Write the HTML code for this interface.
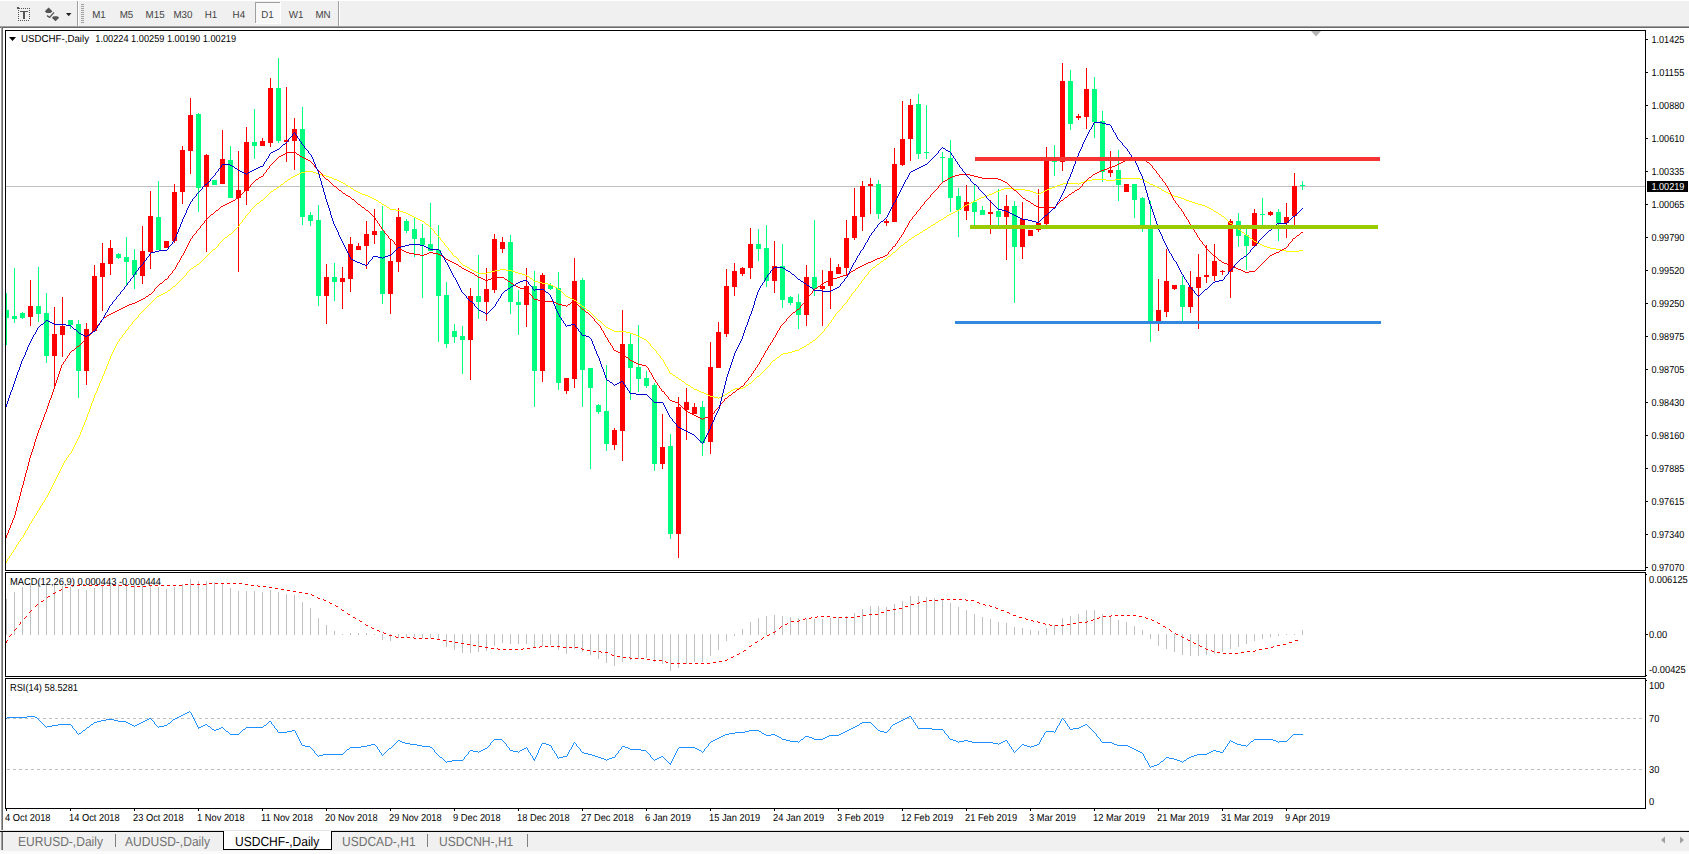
<!DOCTYPE html><html><head><meta charset="utf-8"><title>USDCHF-,Daily</title>
<style>html,body{margin:0;padding:0;background:#fff;overflow:hidden}body{width:1689px;height:854px;position:relative;font-family:"Liberation Sans",sans-serif}svg{position:absolute;left:0;top:0;display:block}text{font-family:"Liberation Sans",sans-serif;text-rendering:geometricPrecision}</style></head><body>
<svg width="1689" height="854" viewBox="0 0 1689 854">
<rect x="0" y="0" width="1689" height="854" fill="#ffffff"/>
<g shape-rendering="crispEdges">
<rect x="0" y="0" width="1689" height="26" fill="#f0f0f0"/>
<rect x="0" y="0" width="1689" height="1" fill="#ffffff"/>
<rect x="0" y="26" width="1689" height="1" fill="#a0a0a0"/>
<rect x="0" y="27" width="1689" height="1" fill="#696969"/>
<rect x="0" y="28" width="1" height="802" fill="#ffffff"/>
<rect x="1" y="27" width="1" height="803" fill="#a0a0a0"/>
<rect x="2" y="28" width="1" height="802" fill="#696969"/>
<rect x="77" y="1" width="1" height="25" fill="#a0a0a0"/>
<rect x="78" y="1" width="1" height="25" fill="#ffffff"/>
<rect x="338" y="1" width="1" height="25" fill="#a0a0a0"/>
<rect x="339" y="1" width="1" height="25" fill="#ffffff"/>
<rect x="81" y="4" width="3" height="1" fill="#a0a0a0"/>
<rect x="81" y="6" width="3" height="1" fill="#a0a0a0"/>
<rect x="81" y="8" width="3" height="1" fill="#a0a0a0"/>
<rect x="81" y="10" width="3" height="1" fill="#a0a0a0"/>
<rect x="81" y="12" width="3" height="1" fill="#a0a0a0"/>
<rect x="81" y="14" width="3" height="1" fill="#a0a0a0"/>
<rect x="81" y="16" width="3" height="1" fill="#a0a0a0"/>
<rect x="81" y="18" width="3" height="1" fill="#a0a0a0"/>
<rect x="81" y="20" width="3" height="1" fill="#a0a0a0"/>
<rect x="81" y="22" width="3" height="1" fill="#a0a0a0"/>
<rect x="255" y="2" width="26" height="22" fill="#f8f8f8"/>
<rect x="255" y="2" width="26" height="1" fill="#a0a0a0"/>
<rect x="255" y="2" width="1" height="22" fill="#a0a0a0"/>
<rect x="255" y="23" width="26" height="1" fill="#ffffff"/>
<rect x="280" y="2" width="1" height="22" fill="#ffffff"/>
<rect x="21" y="8" width="1" height="1" fill="#555"/>
<rect x="23" y="8" width="1" height="1" fill="#555"/>
<rect x="25" y="8" width="1" height="1" fill="#555"/>
<rect x="27" y="8" width="1" height="1" fill="#555"/>
<rect x="29" y="8" width="1" height="1" fill="#555"/>
<rect x="18" y="20" width="1" height="1" fill="#555"/>
<rect x="20" y="20" width="1" height="1" fill="#555"/>
<rect x="22" y="20" width="1" height="1" fill="#555"/>
<rect x="24" y="20" width="1" height="1" fill="#555"/>
<rect x="26" y="20" width="1" height="1" fill="#555"/>
<rect x="28" y="20" width="1" height="1" fill="#555"/>
<rect x="18" y="10" width="1" height="1" fill="#555"/>
<rect x="29" y="10" width="1" height="1" fill="#555"/>
<rect x="18" y="12" width="1" height="1" fill="#555"/>
<rect x="29" y="12" width="1" height="1" fill="#555"/>
<rect x="18" y="14" width="1" height="1" fill="#555"/>
<rect x="29" y="14" width="1" height="1" fill="#555"/>
<rect x="18" y="16" width="1" height="1" fill="#555"/>
<rect x="29" y="16" width="1" height="1" fill="#555"/>
<rect x="18" y="18" width="1" height="1" fill="#555"/>
<rect x="29" y="18" width="1" height="1" fill="#555"/>
<rect x="17" y="7" width="2" height="2" fill="#555"/>
<rect x="19" y="8" width="1" height="1" fill="#555"/>
<rect x="20" y="11" width="8" height="1" fill="#555"/>
<rect x="23" y="11" width="2" height="8" fill="#555"/>
</g>
<g fill="#555" stroke="none">
<polygon points="44.8,11.3 48.6,7.6 52.4,11.3 50.6,12.9 46.6,12.9"/>
<polygon points="51.8,17.8 55.5,21.2 59.2,17.8 57.4,16.3 53.6,16.3"/>
<polyline points="47,15.6 49.6,17.4 54,12.4" fill="none" stroke="#555" stroke-width="1.3"/>
<polygon points="66,13 71.5,13 68.7,16.3" fill="#222"/>
</g>
<g opacity="0.999">
<text x="92.2" y="17.8" font-size="10.2" fill="#444" textLength="13.6" lengthAdjust="spacingAndGlyphs">M1</text>
<text x="119.7" y="17.8" font-size="10.2" fill="#444" textLength="13.6" lengthAdjust="spacingAndGlyphs">M5</text>
<text x="145.6" y="17.8" font-size="10.2" fill="#444" textLength="19.1" lengthAdjust="spacingAndGlyphs">M15</text>
<text x="173.4" y="17.8" font-size="10.2" fill="#444" textLength="19.1" lengthAdjust="spacingAndGlyphs">M30</text>
<text x="204.8" y="17.8" font-size="10.2" fill="#444" textLength="12.5" lengthAdjust="spacingAndGlyphs">H1</text>
<text x="232.6" y="17.8" font-size="10.2" fill="#444" textLength="12.5" lengthAdjust="spacingAndGlyphs">H4</text>
<text x="261.2" y="17.8" font-size="10.2" fill="#444" textLength="12.5" lengthAdjust="spacingAndGlyphs">D1</text>
<text x="288.8" y="17.8" font-size="10.2" fill="#444" textLength="14.7" lengthAdjust="spacingAndGlyphs">W1</text>
<text x="315.4" y="17.8" font-size="10.2" fill="#444" textLength="15.2" lengthAdjust="spacingAndGlyphs">MN</text>
</g>
<g shape-rendering="crispEdges" fill="#000">
<rect x="5" y="30" width="1641" height="1"/>
<rect x="5" y="30" width="1" height="779"/>
<rect x="1645" y="30" width="1" height="779"/>
<rect x="5" y="808" width="1641" height="1"/>
<rect x="5" y="570" width="1641" height="1"/>
<rect x="5" y="572" width="1641" height="1"/>
<rect x="5" y="676" width="1641" height="1"/>
<rect x="5" y="678" width="1641" height="1"/>
<rect x="5" y="571" width="1641" height="1" fill="#fff"/>
<rect x="5" y="677" width="1641" height="1" fill="#fff"/>
<rect x="6" y="186" width="1639" height="1" fill="#c0c0c0"/>
</g>
<polygon points="1311,31 1321,31 1316,36.5" fill="#b4b4b4"/>
<defs><clipPath id="cm"><rect x="6" y="31" width="1639" height="539"/></clipPath></defs>
<g shape-rendering="crispEdges" clip-path="url(#cm)">
<rect x="6" y="293" width="1" height="52" fill="#00ff7f"/>
<rect x="4" y="310" width="5" height="8" fill="#00ff7f"/>
<rect x="14" y="268" width="1" height="55" fill="#00ff7f"/>
<rect x="12" y="316" width="5" height="3" fill="#00ff7f"/>
<rect x="22" y="312" width="1" height="7" fill="#00ff7f"/>
<rect x="20" y="313" width="5" height="5" fill="#00ff7f"/>
<rect x="30" y="280" width="1" height="46" fill="#ff0000"/>
<rect x="28" y="306" width="5" height="11" fill="#ff0000"/>
<rect x="38" y="267" width="1" height="55" fill="#00ff7f"/>
<rect x="36" y="306" width="5" height="8" fill="#00ff7f"/>
<rect x="46" y="293" width="1" height="70" fill="#00ff7f"/>
<rect x="44" y="313" width="5" height="43" fill="#00ff7f"/>
<rect x="54" y="307" width="1" height="80" fill="#ff0000"/>
<rect x="52" y="334" width="5" height="22" fill="#ff0000"/>
<rect x="62" y="297" width="1" height="60" fill="#ff0000"/>
<rect x="60" y="326" width="5" height="9" fill="#ff0000"/>
<rect x="70" y="320" width="1" height="9" fill="#00ff7f"/>
<rect x="68" y="320" width="5" height="5" fill="#00ff7f"/>
<rect x="78" y="320" width="1" height="78" fill="#00ff7f"/>
<rect x="76" y="324" width="5" height="47" fill="#00ff7f"/>
<rect x="86" y="323" width="1" height="62" fill="#ff0000"/>
<rect x="84" y="329" width="5" height="42" fill="#ff0000"/>
<rect x="94" y="265" width="1" height="66" fill="#ff0000"/>
<rect x="92" y="276" width="5" height="55" fill="#ff0000"/>
<rect x="102" y="243" width="1" height="68" fill="#ff0000"/>
<rect x="100" y="263" width="5" height="14" fill="#ff0000"/>
<rect x="110" y="240" width="1" height="35" fill="#ff0000"/>
<rect x="108" y="248" width="5" height="16" fill="#ff0000"/>
<rect x="118" y="253" width="1" height="6" fill="#00ff7f"/>
<rect x="116" y="254" width="5" height="4" fill="#00ff7f"/>
<rect x="126" y="237" width="1" height="48" fill="#00ff7f"/>
<rect x="124" y="257" width="5" height="5" fill="#00ff7f"/>
<rect x="134" y="249" width="1" height="40" fill="#00ff7f"/>
<rect x="132" y="260" width="5" height="15" fill="#00ff7f"/>
<rect x="142" y="226" width="1" height="58" fill="#ff0000"/>
<rect x="140" y="251" width="5" height="25" fill="#ff0000"/>
<rect x="150" y="191" width="1" height="78" fill="#ff0000"/>
<rect x="148" y="216" width="5" height="36" fill="#ff0000"/>
<rect x="158" y="181" width="1" height="69" fill="#00ff7f"/>
<rect x="156" y="217" width="5" height="33" fill="#00ff7f"/>
<rect x="166" y="241" width="1" height="7" fill="#ff0000"/>
<rect x="164" y="241" width="5" height="7" fill="#ff0000"/>
<rect x="174" y="184" width="1" height="59" fill="#ff0000"/>
<rect x="172" y="192" width="5" height="49" fill="#ff0000"/>
<rect x="182" y="146" width="1" height="58" fill="#ff0000"/>
<rect x="180" y="150" width="5" height="42" fill="#ff0000"/>
<rect x="190" y="98" width="1" height="76" fill="#ff0000"/>
<rect x="188" y="115" width="5" height="36" fill="#ff0000"/>
<rect x="198" y="113" width="1" height="99" fill="#00ff7f"/>
<rect x="196" y="114" width="5" height="74" fill="#00ff7f"/>
<rect x="206" y="154" width="1" height="98" fill="#ff0000"/>
<rect x="204" y="155" width="5" height="32" fill="#ff0000"/>
<rect x="214" y="180" width="1" height="5" fill="#00ff7f"/>
<rect x="212" y="180" width="5" height="5" fill="#00ff7f"/>
<rect x="222" y="130" width="1" height="54" fill="#ff0000"/>
<rect x="220" y="159" width="5" height="25" fill="#ff0000"/>
<rect x="230" y="146" width="1" height="52" fill="#00ff7f"/>
<rect x="228" y="160" width="5" height="38" fill="#00ff7f"/>
<rect x="238" y="151" width="1" height="121" fill="#ff0000"/>
<rect x="236" y="190" width="5" height="8" fill="#ff0000"/>
<rect x="246" y="127" width="1" height="78" fill="#ff0000"/>
<rect x="244" y="142" width="5" height="49" fill="#ff0000"/>
<rect x="254" y="109" width="1" height="50" fill="#00ff7f"/>
<rect x="252" y="142" width="5" height="4" fill="#00ff7f"/>
<rect x="262" y="138" width="1" height="8" fill="#ff0000"/>
<rect x="260" y="141" width="5" height="5" fill="#ff0000"/>
<rect x="270" y="78" width="1" height="69" fill="#ff0000"/>
<rect x="268" y="88" width="5" height="55" fill="#ff0000"/>
<rect x="278" y="58" width="1" height="85" fill="#00ff7f"/>
<rect x="276" y="88" width="5" height="53" fill="#00ff7f"/>
<rect x="286" y="87" width="1" height="75" fill="#ff0000"/>
<rect x="284" y="140" width="5" height="2" fill="#ff0000"/>
<rect x="294" y="118" width="1" height="52" fill="#ff0000"/>
<rect x="292" y="129" width="5" height="12" fill="#ff0000"/>
<rect x="302" y="107" width="1" height="118" fill="#00ff7f"/>
<rect x="300" y="129" width="5" height="88" fill="#00ff7f"/>
<rect x="310" y="212" width="1" height="14" fill="#00ff7f"/>
<rect x="308" y="215" width="5" height="6" fill="#00ff7f"/>
<rect x="318" y="205" width="1" height="101" fill="#00ff7f"/>
<rect x="316" y="220" width="5" height="76" fill="#00ff7f"/>
<rect x="326" y="264" width="1" height="60" fill="#ff0000"/>
<rect x="324" y="277" width="5" height="19" fill="#ff0000"/>
<rect x="334" y="263" width="1" height="38" fill="#00ff7f"/>
<rect x="332" y="277" width="5" height="5" fill="#00ff7f"/>
<rect x="342" y="267" width="1" height="42" fill="#ff0000"/>
<rect x="340" y="278" width="5" height="4" fill="#ff0000"/>
<rect x="350" y="237" width="1" height="55" fill="#ff0000"/>
<rect x="348" y="244" width="5" height="35" fill="#ff0000"/>
<rect x="358" y="243" width="1" height="7" fill="#ff0000"/>
<rect x="356" y="246" width="5" height="4" fill="#ff0000"/>
<rect x="366" y="221" width="1" height="48" fill="#ff0000"/>
<rect x="364" y="234" width="5" height="12" fill="#ff0000"/>
<rect x="374" y="209" width="1" height="35" fill="#ff0000"/>
<rect x="372" y="231" width="5" height="4" fill="#ff0000"/>
<rect x="382" y="206" width="1" height="98" fill="#00ff7f"/>
<rect x="380" y="231" width="5" height="63" fill="#00ff7f"/>
<rect x="390" y="240" width="1" height="74" fill="#ff0000"/>
<rect x="388" y="261" width="5" height="33" fill="#ff0000"/>
<rect x="398" y="208" width="1" height="64" fill="#ff0000"/>
<rect x="396" y="217" width="5" height="45" fill="#ff0000"/>
<rect x="406" y="219" width="1" height="14" fill="#00ff7f"/>
<rect x="404" y="221" width="5" height="10" fill="#00ff7f"/>
<rect x="414" y="218" width="1" height="39" fill="#00ff7f"/>
<rect x="412" y="229" width="5" height="10" fill="#00ff7f"/>
<rect x="422" y="224" width="1" height="74" fill="#00ff7f"/>
<rect x="420" y="238" width="5" height="7" fill="#00ff7f"/>
<rect x="430" y="203" width="1" height="48" fill="#00ff7f"/>
<rect x="428" y="244" width="5" height="7" fill="#00ff7f"/>
<rect x="438" y="225" width="1" height="117" fill="#00ff7f"/>
<rect x="436" y="250" width="5" height="46" fill="#00ff7f"/>
<rect x="446" y="282" width="1" height="66" fill="#00ff7f"/>
<rect x="444" y="295" width="5" height="49" fill="#00ff7f"/>
<rect x="454" y="324" width="1" height="19" fill="#00ff7f"/>
<rect x="452" y="331" width="5" height="6" fill="#00ff7f"/>
<rect x="462" y="326" width="1" height="48" fill="#00ff7f"/>
<rect x="460" y="336" width="5" height="4" fill="#00ff7f"/>
<rect x="470" y="288" width="1" height="92" fill="#ff0000"/>
<rect x="468" y="296" width="5" height="44" fill="#ff0000"/>
<rect x="478" y="255" width="1" height="64" fill="#00ff7f"/>
<rect x="476" y="296" width="5" height="6" fill="#00ff7f"/>
<rect x="486" y="268" width="1" height="53" fill="#ff0000"/>
<rect x="484" y="289" width="5" height="13" fill="#ff0000"/>
<rect x="494" y="234" width="1" height="59" fill="#ff0000"/>
<rect x="492" y="239" width="5" height="51" fill="#ff0000"/>
<rect x="502" y="237" width="1" height="16" fill="#ff0000"/>
<rect x="500" y="242" width="5" height="7" fill="#ff0000"/>
<rect x="510" y="235" width="1" height="79" fill="#00ff7f"/>
<rect x="508" y="242" width="5" height="60" fill="#00ff7f"/>
<rect x="518" y="290" width="1" height="45" fill="#00ff7f"/>
<rect x="516" y="302" width="5" height="3" fill="#00ff7f"/>
<rect x="526" y="268" width="1" height="59" fill="#ff0000"/>
<rect x="524" y="286" width="5" height="19" fill="#ff0000"/>
<rect x="534" y="271" width="1" height="136" fill="#00ff7f"/>
<rect x="532" y="286" width="5" height="85" fill="#00ff7f"/>
<rect x="542" y="273" width="1" height="109" fill="#ff0000"/>
<rect x="540" y="275" width="5" height="96" fill="#ff0000"/>
<rect x="550" y="283" width="1" height="7" fill="#00ff7f"/>
<rect x="548" y="285" width="5" height="4" fill="#00ff7f"/>
<rect x="558" y="272" width="1" height="118" fill="#00ff7f"/>
<rect x="556" y="288" width="5" height="95" fill="#00ff7f"/>
<rect x="566" y="378" width="1" height="16" fill="#ff0000"/>
<rect x="564" y="378" width="5" height="13" fill="#ff0000"/>
<rect x="574" y="258" width="1" height="130" fill="#ff0000"/>
<rect x="572" y="281" width="5" height="98" fill="#ff0000"/>
<rect x="582" y="278" width="1" height="129" fill="#00ff7f"/>
<rect x="580" y="280" width="5" height="90" fill="#00ff7f"/>
<rect x="590" y="368" width="1" height="101" fill="#00ff7f"/>
<rect x="588" y="368" width="5" height="20" fill="#00ff7f"/>
<rect x="598" y="404" width="1" height="10" fill="#00ff7f"/>
<rect x="596" y="405" width="5" height="7" fill="#00ff7f"/>
<rect x="606" y="365" width="1" height="86" fill="#00ff7f"/>
<rect x="604" y="411" width="5" height="33" fill="#00ff7f"/>
<rect x="614" y="428" width="1" height="22" fill="#ff0000"/>
<rect x="612" y="430" width="5" height="15" fill="#ff0000"/>
<rect x="622" y="310" width="1" height="151" fill="#ff0000"/>
<rect x="620" y="344" width="5" height="87" fill="#ff0000"/>
<rect x="630" y="334" width="1" height="66" fill="#00ff7f"/>
<rect x="628" y="344" width="5" height="24" fill="#00ff7f"/>
<rect x="638" y="325" width="1" height="67" fill="#00ff7f"/>
<rect x="636" y="367" width="5" height="12" fill="#00ff7f"/>
<rect x="646" y="371" width="1" height="17" fill="#00ff7f"/>
<rect x="644" y="378" width="5" height="8" fill="#00ff7f"/>
<rect x="654" y="383" width="1" height="88" fill="#00ff7f"/>
<rect x="652" y="385" width="5" height="79" fill="#00ff7f"/>
<rect x="662" y="414" width="1" height="55" fill="#ff0000"/>
<rect x="660" y="447" width="5" height="17" fill="#ff0000"/>
<rect x="670" y="434" width="1" height="105" fill="#00ff7f"/>
<rect x="668" y="446" width="5" height="88" fill="#00ff7f"/>
<rect x="678" y="397" width="1" height="161" fill="#ff0000"/>
<rect x="676" y="407" width="5" height="127" fill="#ff0000"/>
<rect x="686" y="388" width="1" height="52" fill="#ff0000"/>
<rect x="684" y="402" width="5" height="8" fill="#ff0000"/>
<rect x="694" y="403" width="1" height="11" fill="#ff0000"/>
<rect x="692" y="407" width="5" height="7" fill="#ff0000"/>
<rect x="702" y="401" width="1" height="55" fill="#00ff7f"/>
<rect x="700" y="407" width="5" height="36" fill="#00ff7f"/>
<rect x="710" y="342" width="1" height="112" fill="#ff0000"/>
<rect x="708" y="367" width="5" height="75" fill="#ff0000"/>
<rect x="718" y="322" width="1" height="46" fill="#ff0000"/>
<rect x="716" y="332" width="5" height="36" fill="#ff0000"/>
<rect x="726" y="269" width="1" height="68" fill="#ff0000"/>
<rect x="724" y="286" width="5" height="48" fill="#ff0000"/>
<rect x="734" y="263" width="1" height="33" fill="#ff0000"/>
<rect x="732" y="271" width="5" height="16" fill="#ff0000"/>
<rect x="742" y="267" width="1" height="9" fill="#ff0000"/>
<rect x="740" y="268" width="5" height="6" fill="#ff0000"/>
<rect x="750" y="228" width="1" height="51" fill="#ff0000"/>
<rect x="748" y="244" width="5" height="24" fill="#ff0000"/>
<rect x="758" y="229" width="1" height="32" fill="#00ff7f"/>
<rect x="756" y="244" width="5" height="5" fill="#00ff7f"/>
<rect x="766" y="225" width="1" height="62" fill="#00ff7f"/>
<rect x="764" y="248" width="5" height="33" fill="#00ff7f"/>
<rect x="774" y="241" width="1" height="52" fill="#ff0000"/>
<rect x="772" y="266" width="5" height="15" fill="#ff0000"/>
<rect x="782" y="244" width="1" height="64" fill="#00ff7f"/>
<rect x="780" y="266" width="5" height="34" fill="#00ff7f"/>
<rect x="790" y="296" width="1" height="9" fill="#00ff7f"/>
<rect x="788" y="297" width="5" height="6" fill="#00ff7f"/>
<rect x="798" y="294" width="1" height="35" fill="#00ff7f"/>
<rect x="796" y="302" width="5" height="13" fill="#00ff7f"/>
<rect x="806" y="265" width="1" height="61" fill="#ff0000"/>
<rect x="804" y="277" width="5" height="38" fill="#ff0000"/>
<rect x="814" y="220" width="1" height="76" fill="#00ff7f"/>
<rect x="812" y="277" width="5" height="12" fill="#00ff7f"/>
<rect x="822" y="270" width="1" height="56" fill="#ff0000"/>
<rect x="820" y="286" width="5" height="3" fill="#ff0000"/>
<rect x="830" y="258" width="1" height="51" fill="#ff0000"/>
<rect x="828" y="271" width="5" height="15" fill="#ff0000"/>
<rect x="838" y="264" width="1" height="10" fill="#ff0000"/>
<rect x="836" y="267" width="5" height="7" fill="#ff0000"/>
<rect x="846" y="220" width="1" height="55" fill="#ff0000"/>
<rect x="844" y="238" width="5" height="30" fill="#ff0000"/>
<rect x="854" y="188" width="1" height="52" fill="#ff0000"/>
<rect x="852" y="216" width="5" height="22" fill="#ff0000"/>
<rect x="862" y="181" width="1" height="50" fill="#ff0000"/>
<rect x="860" y="186" width="5" height="31" fill="#ff0000"/>
<rect x="870" y="178" width="1" height="36" fill="#ff0000"/>
<rect x="868" y="184" width="5" height="2" fill="#ff0000"/>
<rect x="878" y="180" width="1" height="39" fill="#00ff7f"/>
<rect x="876" y="184" width="5" height="30" fill="#00ff7f"/>
<rect x="886" y="219" width="1" height="7" fill="#ff0000"/>
<rect x="884" y="221" width="5" height="2" fill="#ff0000"/>
<rect x="894" y="148" width="1" height="74" fill="#ff0000"/>
<rect x="892" y="164" width="5" height="58" fill="#ff0000"/>
<rect x="902" y="101" width="1" height="65" fill="#ff0000"/>
<rect x="900" y="139" width="5" height="26" fill="#ff0000"/>
<rect x="910" y="99" width="1" height="62" fill="#ff0000"/>
<rect x="908" y="105" width="5" height="34" fill="#ff0000"/>
<rect x="918" y="94" width="1" height="65" fill="#00ff7f"/>
<rect x="916" y="104" width="5" height="50" fill="#00ff7f"/>
<rect x="926" y="105" width="1" height="54" fill="#00ff7f"/>
<rect x="924" y="152" width="5" height="1" fill="#00ff7f"/>
<rect x="942" y="152" width="1" height="31" fill="#00ff7f"/>
<rect x="940" y="157" width="5" height="1" fill="#00ff7f"/>
<rect x="950" y="140" width="1" height="72" fill="#00ff7f"/>
<rect x="948" y="158" width="5" height="40" fill="#00ff7f"/>
<rect x="958" y="188" width="1" height="49" fill="#00ff7f"/>
<rect x="956" y="196" width="5" height="14" fill="#00ff7f"/>
<rect x="966" y="185" width="1" height="35" fill="#ff0000"/>
<rect x="964" y="202" width="5" height="9" fill="#ff0000"/>
<rect x="974" y="185" width="1" height="40" fill="#00ff7f"/>
<rect x="972" y="202" width="5" height="10" fill="#00ff7f"/>
<rect x="982" y="206" width="1" height="9" fill="#00ff7f"/>
<rect x="980" y="210" width="5" height="5" fill="#00ff7f"/>
<rect x="990" y="200" width="1" height="34" fill="#ff0000"/>
<rect x="988" y="212" width="5" height="2" fill="#ff0000"/>
<rect x="998" y="189" width="1" height="36" fill="#00ff7f"/>
<rect x="996" y="211" width="5" height="6" fill="#00ff7f"/>
<rect x="1006" y="195" width="1" height="65" fill="#ff0000"/>
<rect x="1004" y="206" width="5" height="11" fill="#ff0000"/>
<rect x="1014" y="201" width="1" height="102" fill="#00ff7f"/>
<rect x="1012" y="206" width="5" height="41" fill="#00ff7f"/>
<rect x="1022" y="202" width="1" height="57" fill="#ff0000"/>
<rect x="1020" y="219" width="5" height="28" fill="#ff0000"/>
<rect x="1030" y="230" width="1" height="6" fill="#ff0000"/>
<rect x="1028" y="230" width="5" height="6" fill="#ff0000"/>
<rect x="1038" y="189" width="1" height="43" fill="#ff0000"/>
<rect x="1036" y="223" width="5" height="7" fill="#ff0000"/>
<rect x="1046" y="147" width="1" height="78" fill="#ff0000"/>
<rect x="1044" y="160" width="5" height="64" fill="#ff0000"/>
<rect x="1054" y="145" width="1" height="31" fill="#00ff7f"/>
<rect x="1052" y="159" width="5" height="3" fill="#00ff7f"/>
<rect x="1062" y="63" width="1" height="108" fill="#ff0000"/>
<rect x="1060" y="81" width="5" height="81" fill="#ff0000"/>
<rect x="1070" y="70" width="1" height="60" fill="#00ff7f"/>
<rect x="1068" y="81" width="5" height="43" fill="#00ff7f"/>
<rect x="1078" y="114" width="1" height="6" fill="#ff0000"/>
<rect x="1076" y="116" width="5" height="2" fill="#ff0000"/>
<rect x="1086" y="68" width="1" height="61" fill="#ff0000"/>
<rect x="1084" y="89" width="5" height="28" fill="#ff0000"/>
<rect x="1094" y="77" width="1" height="61" fill="#00ff7f"/>
<rect x="1092" y="89" width="5" height="33" fill="#00ff7f"/>
<rect x="1102" y="111" width="1" height="71" fill="#00ff7f"/>
<rect x="1100" y="121" width="5" height="51" fill="#00ff7f"/>
<rect x="1110" y="151" width="1" height="26" fill="#ff0000"/>
<rect x="1108" y="170" width="5" height="3" fill="#ff0000"/>
<rect x="1118" y="150" width="1" height="51" fill="#00ff7f"/>
<rect x="1116" y="170" width="5" height="15" fill="#00ff7f"/>
<rect x="1126" y="184" width="1" height="8" fill="#ff0000"/>
<rect x="1124" y="184" width="5" height="8" fill="#ff0000"/>
<rect x="1134" y="184" width="1" height="34" fill="#00ff7f"/>
<rect x="1132" y="184" width="5" height="16" fill="#00ff7f"/>
<rect x="1142" y="197" width="1" height="35" fill="#00ff7f"/>
<rect x="1140" y="198" width="5" height="28" fill="#00ff7f"/>
<rect x="1150" y="201" width="1" height="141" fill="#00ff7f"/>
<rect x="1148" y="227" width="5" height="94" fill="#00ff7f"/>
<rect x="1158" y="279" width="1" height="52" fill="#ff0000"/>
<rect x="1156" y="310" width="5" height="11" fill="#ff0000"/>
<rect x="1166" y="249" width="1" height="68" fill="#ff0000"/>
<rect x="1164" y="281" width="5" height="31" fill="#ff0000"/>
<rect x="1174" y="285" width="1" height="5" fill="#ff0000"/>
<rect x="1172" y="285" width="5" height="4" fill="#ff0000"/>
<rect x="1182" y="276" width="1" height="45" fill="#00ff7f"/>
<rect x="1180" y="285" width="5" height="22" fill="#00ff7f"/>
<rect x="1190" y="271" width="1" height="42" fill="#ff0000"/>
<rect x="1188" y="287" width="5" height="20" fill="#ff0000"/>
<rect x="1198" y="254" width="1" height="75" fill="#ff0000"/>
<rect x="1196" y="277" width="5" height="11" fill="#ff0000"/>
<rect x="1206" y="245" width="1" height="38" fill="#ff0000"/>
<rect x="1204" y="275" width="5" height="2" fill="#ff0000"/>
<rect x="1214" y="244" width="1" height="37" fill="#ff0000"/>
<rect x="1212" y="261" width="5" height="15" fill="#ff0000"/>
<rect x="1222" y="270" width="1" height="5" fill="#ff0000"/>
<rect x="1220" y="271" width="5" height="1" fill="#ff0000"/>
<rect x="1230" y="219" width="1" height="79" fill="#ff0000"/>
<rect x="1228" y="221" width="5" height="51" fill="#ff0000"/>
<rect x="1238" y="213" width="1" height="34" fill="#00ff7f"/>
<rect x="1236" y="221" width="5" height="15" fill="#00ff7f"/>
<rect x="1246" y="229" width="1" height="41" fill="#00ff7f"/>
<rect x="1244" y="235" width="5" height="11" fill="#00ff7f"/>
<rect x="1254" y="209" width="1" height="38" fill="#ff0000"/>
<rect x="1252" y="213" width="5" height="33" fill="#ff0000"/>
<rect x="1262" y="198" width="1" height="27" fill="#00ff7f"/>
<rect x="1260" y="214" width="5" height="1" fill="#00ff7f"/>
<rect x="1270" y="211" width="1" height="5" fill="#ff0000"/>
<rect x="1268" y="212" width="5" height="3" fill="#ff0000"/>
<rect x="1278" y="209" width="1" height="32" fill="#00ff7f"/>
<rect x="1276" y="212" width="5" height="11" fill="#00ff7f"/>
<rect x="1286" y="203" width="1" height="35" fill="#ff0000"/>
<rect x="1284" y="217" width="5" height="6" fill="#ff0000"/>
<rect x="1294" y="173" width="1" height="52" fill="#ff0000"/>
<rect x="1292" y="186" width="5" height="30" fill="#ff0000"/>
<rect x="1302" y="181" width="1" height="9" fill="#00ff7f"/>
<rect x="1300" y="185" width="5" height="1" fill="#00ff7f"/>
</g>
<path d="M6.5 561v2M7.5 559v2M8.5 558v1M9.5 556v2M10.5 555v1M11.5 553v2M12.5 552v1M13.5 550v2M14.5 549v1M15.5 547v2M16.5 545v2M17.5 544v1M18.5 542v2M19.5 541v1M20.5 539v2M21.5 538v1M22.5 537v1M23.5 535v2M24.5 533v2M25.5 531v2M26.5 530v1M27.5 528v2M28.5 526v2M29.5 524v2M30.5 523v1M31.5 521v2M32.5 519v2M33.5 518v1M34.5 516v2M35.5 515v1M36.5 513v2M37.5 511v2M38.5 510v1M39.5 508v2M40.5 506v2M41.5 505v1M42.5 503v2M43.5 502v1M44.5 500v2M45.5 498v2M46.5 497v1M47.5 495v2M48.5 493v2M49.5 491v2M50.5 489v2M51.5 487v2M52.5 485v2M53.5 483v2M54.5 481v2M55.5 479v2M56.5 477v2M57.5 475v2M58.5 473v2M59.5 471v2M60.5 469v2M61.5 467v2M62.5 465v2M63.5 463v2M64.5 461v2M65.5 460v1M66.5 458v2M67.5 457v1M68.5 455v2M69.5 454v1M70.5 453v1M71.5 451v2M72.5 449v2M73.5 447v2M74.5 445v2M75.5 443v2M76.5 441v2M77.5 439v2M78.5 437v2M79.5 435v2M80.5 432v3M81.5 430v2M82.5 427v3M83.5 425v2M84.5 422v3M85.5 420v2M86.5 417v3M87.5 414v3M88.5 412v2M89.5 409v3M90.5 406v3M91.5 403v3M92.5 401v2M93.5 398v3M94.5 395v3M95.5 393v2M96.5 391v2M97.5 388v3M98.5 386v2M99.5 383v3M100.5 381v2M101.5 379v2M102.5 376v3M103.5 374v2M104.5 371v3M105.5 369v2M106.5 366v3M107.5 364v2M108.5 361v3M109.5 359v2M110.5 356v3M111.5 354v2M112.5 352v2M113.5 350v2M114.5 348v2M115.5 346v2M116.5 344v2M117.5 342v2M118.5 341v1M119.5 339v2M120.5 338v1M121.5 337v1M122.5 335v2M123.5 334v1M124.5 333v1M125.5 331v2M126.5 330v1M127.5 329v1M128.5 327v2M129.5 326v1M130.5 325v1M131.5 324v1M132.5 322v2M133.5 321v1M134.5 320v1M135.5 319v1M136.5 318v1M137.5 317v1M138.5 315v2M139.5 314v1M140.5 313v1M141.5 312v1M142.5 311v1M143.5 310v1M144.5 309v1M145.5 308v1M146.5 307v1M147.5 306v1M148.5 305v1M149.5 304v1M150.5 303v1M151.5 302v1M152.5 301v1M153.5 300v1M154.5 299v1M155.5 298v1M156.5 297v1M157.5 296v1M158.5 296v1M159.5 295v1M160.5 295v1M161.5 294v1M162.5 294v1M163.5 293v1M164.5 293v1M165.5 292v1M166.5 292v1M167.5 291v1M168.5 290v1M169.5 290v1M170.5 289v1M171.5 288v1M172.5 287v1M173.5 286v1M174.5 286v1M175.5 285v1M176.5 284v1M177.5 283v1M178.5 282v1M179.5 281v1M180.5 280v1M181.5 279v1M182.5 278v1M183.5 277v1M184.5 276v1M185.5 275v1M186.5 273v2M187.5 272v1M188.5 271v1M189.5 270v1M190.5 269v1M191.5 268v1M192.5 268v1M193.5 267v1M194.5 266v1M195.5 266v1M196.5 265v1M197.5 264v1M198.5 264v1M199.5 263v1M200.5 262v1M201.5 261v1M202.5 260v1M203.5 259v1M204.5 258v1M205.5 257v1M206.5 256v1M207.5 255v1M208.5 254v1M209.5 253v1M210.5 252v1M211.5 251v1M212.5 250v1M213.5 249v1M214.5 249v1M215.5 248v1M216.5 247v1M217.5 246v1M218.5 244v2M219.5 243v1M220.5 242v1M221.5 241v1M222.5 240v1M223.5 239v1M224.5 238v1M225.5 237v1M226.5 237v1M227.5 236v1M228.5 235v1M229.5 234v1M230.5 234v1M231.5 233v1M232.5 232v1M233.5 231v1M234.5 230v1M235.5 229v1M236.5 228v1M237.5 227v1M238.5 226v1M239.5 224v2M240.5 223v1M241.5 222v1M242.5 220v2M243.5 219v1M244.5 218v1M245.5 216v2M246.5 215v1M247.5 214v1M248.5 213v1M249.5 212v1M250.5 210v2M251.5 209v1M252.5 208v1M253.5 207v1M254.5 206v1M255.5 205v1M256.5 204v1M257.5 203v1M258.5 203v1M259.5 202v1M260.5 201v1M261.5 200v1M262.5 200v1M263.5 199v1M264.5 198v1M265.5 197v1M266.5 196v1M267.5 195v1M268.5 194v1M269.5 193v1M270.5 192v1M271.5 191v1M272.5 191v1M273.5 190v1M274.5 189v1M275.5 189v1M276.5 188v1M277.5 187v1M278.5 187v1M279.5 186v1M280.5 185v1M281.5 184v1M282.5 184v1M283.5 183v1M284.5 182v1M285.5 181v1M286.5 181v1M287.5 180v1M288.5 179v1M289.5 179v1M290.5 178v1M291.5 177v1M292.5 177v1M293.5 176v1M294.5 176v1M295.5 175v1M296.5 175v1M297.5 174v1M298.5 174v1M299.5 173v1M300.5 173v1M301.5 172v1M302.5 172v1M303.5 172v1M304.5 172v1M305.5 171v1M306.5 171v1M307.5 171v1M308.5 171v1M309.5 171v1M310.5 171v1M311.5 171v1M312.5 171v1M313.5 172v1M314.5 172v1M315.5 172v1M316.5 173v1M317.5 173v1M318.5 174v1M319.5 174v1M320.5 174v1M321.5 174v1M322.5 175v1M323.5 175v1M324.5 175v1M325.5 175v1M326.5 176v1M327.5 176v1M328.5 176v1M329.5 177v1M330.5 177v1M331.5 177v1M332.5 178v1M333.5 178v1M334.5 179v1M335.5 179v1M336.5 179v1M337.5 180v1M338.5 180v1M339.5 181v1M340.5 181v1M341.5 182v1M342.5 182v1M343.5 183v1M344.5 183v1M345.5 184v1M346.5 185v1M347.5 185v1M348.5 186v1M349.5 186v1M350.5 187v1M351.5 188v1M352.5 188v1M353.5 189v1M354.5 190v1M355.5 190v1M356.5 191v1M357.5 191v1M358.5 192v1M359.5 192v1M360.5 193v1M361.5 193v1M362.5 194v1M363.5 194v1M364.5 194v1M365.5 195v1M366.5 195v1M367.5 195v1M368.5 196v1M369.5 196v1M370.5 197v1M371.5 197v1M372.5 198v1M373.5 198v1M374.5 199v1M375.5 199v1M376.5 200v1M377.5 200v1M378.5 201v1M379.5 202v1M380.5 202v1M381.5 203v1M382.5 204v1M383.5 204v1M384.5 205v1M385.5 205v1M386.5 206v1M387.5 207v1M388.5 207v1M389.5 208v1M390.5 209v1M391.5 209v1M392.5 209v1M393.5 209v1M394.5 209v1M395.5 209v1M396.5 210v1M397.5 210v1M398.5 210v1M399.5 210v1M400.5 211v1M401.5 211v1M402.5 211v1M403.5 212v1M404.5 212v1M405.5 212v1M406.5 213v1M407.5 213v1M408.5 214v1M409.5 214v1M410.5 215v1M411.5 215v1M412.5 216v1M413.5 216v1M414.5 217v1M415.5 217v1M416.5 218v1M417.5 218v1M418.5 219v1M419.5 219v1M420.5 220v1M421.5 220v1M422.5 221v1M423.5 221v1M424.5 222v1M425.5 223v1M426.5 224v1M427.5 224v1M428.5 225v1M429.5 226v1M430.5 227v1M431.5 228v1M432.5 229v1M433.5 230v1M434.5 231v2M435.5 233v1M436.5 234v1M437.5 235v1M438.5 236v1M439.5 237v1M440.5 238v2M441.5 240v1M442.5 241v1M443.5 242v1M444.5 243v2M445.5 245v1M446.5 246v1M447.5 247v1M448.5 248v2M449.5 250v1M450.5 251v1M451.5 252v1M452.5 253v2M453.5 255v1M454.5 256v1M455.5 256v1M456.5 257v1M457.5 258v1M458.5 259v2M459.5 261v1M460.5 262v1M461.5 263v1M462.5 264v1M463.5 265v1M464.5 265v1M465.5 266v1M466.5 266v1M467.5 267v1M468.5 267v1M469.5 268v1M470.5 269v1M471.5 269v1M472.5 270v1M473.5 270v1M474.5 271v1M475.5 271v1M476.5 272v1M477.5 272v1M478.5 273v1M479.5 273v1M480.5 273v1M481.5 273v1M482.5 273v1M483.5 273v1M484.5 273v1M485.5 273v1M486.5 273v1M487.5 272v1M488.5 272v1M489.5 272v1M490.5 272v1M491.5 271v1M492.5 271v1M493.5 271v1M494.5 271v1M495.5 270v1M496.5 270v1M497.5 270v1M498.5 270v1M499.5 270v1M500.5 269v1M501.5 269v1M502.5 269v1M503.5 269v1M504.5 269v1M505.5 269v1M506.5 270v1M507.5 270v1M508.5 270v1M509.5 270v1M510.5 270v1M511.5 270v1M512.5 271v1M513.5 271v1M514.5 271v1M515.5 272v1M516.5 272v1M517.5 272v1M518.5 273v1M519.5 273v1M520.5 273v1M521.5 273v1M522.5 274v1M523.5 274v1M524.5 274v1M525.5 275v1M526.5 275v1M527.5 276v1M528.5 276v1M529.5 277v1M530.5 278v1M531.5 278v1M532.5 279v1M533.5 280v1M534.5 281v1M535.5 281v1M536.5 281v1M537.5 281v1M538.5 282v1M539.5 282v1M540.5 282v1M541.5 282v1M542.5 283v1M543.5 283v1M544.5 283v1M545.5 283v1M546.5 283v1M547.5 283v1M548.5 284v1M549.5 284v1M550.5 284v1M551.5 285v1M552.5 285v1M553.5 286v1M554.5 286v1M555.5 287v1M556.5 287v1M557.5 288v1M558.5 289v1M559.5 289v1M560.5 290v1M561.5 291v1M562.5 292v1M563.5 293v1M564.5 294v1M565.5 295v1M566.5 296v1M567.5 296v1M568.5 297v1M569.5 297v1M570.5 298v1M571.5 298v1M572.5 299v1M573.5 299v1M574.5 300v1M575.5 300v1M576.5 301v1M577.5 302v1M578.5 303v1M579.5 303v1M580.5 304v1M581.5 305v1M582.5 306v1M583.5 306v1M584.5 307v1M585.5 308v1M586.5 309v1M587.5 310v1M588.5 310v1M589.5 311v1M590.5 312v1M591.5 313v1M592.5 314v1M593.5 315v1M594.5 316v1M595.5 317v1M596.5 318v1M597.5 319v1M598.5 320v1M599.5 320v1M600.5 321v1M601.5 322v1M602.5 323v1M603.5 324v1M604.5 325v1M605.5 326v1M606.5 327v1M607.5 327v1M608.5 328v1M609.5 328v1M610.5 329v1M611.5 329v1M612.5 330v1M613.5 330v1M614.5 331v1M615.5 331v1M616.5 331v1M617.5 331v1M618.5 331v1M619.5 331v1M620.5 331v1M621.5 331v1M622.5 331v1M623.5 331v1M624.5 331v1M625.5 331v1M626.5 332v1M627.5 332v1M628.5 332v1M629.5 332v1M630.5 333v1M631.5 333v1M632.5 333v1M633.5 334v1M634.5 334v1M635.5 334v1M636.5 335v1M637.5 335v1M638.5 336v1M639.5 336v1M640.5 337v1M641.5 337v1M642.5 338v1M643.5 338v1M644.5 339v1M645.5 339v1M646.5 340v1M647.5 341v1M648.5 342v1M649.5 343v1M650.5 344v2M651.5 346v1M652.5 347v1M653.5 348v1M654.5 349v1M655.5 350v1M656.5 351v2M657.5 353v1M658.5 354v1M659.5 355v1M660.5 356v2M661.5 358v1M662.5 359v1M663.5 360v2M664.5 362v2M665.5 364v2M666.5 366v1M667.5 367v2M668.5 369v2M669.5 371v2M670.5 373v1M671.5 373v1M672.5 374v1M673.5 375v1M674.5 375v1M675.5 376v1M676.5 377v1M677.5 377v1M678.5 378v1M679.5 379v1M680.5 379v1M681.5 380v1M682.5 381v1M683.5 381v1M684.5 382v1M685.5 383v1M686.5 384v1M687.5 384v1M688.5 385v1M689.5 385v1M690.5 386v1M691.5 387v1M692.5 387v1M693.5 388v1M694.5 389v1M695.5 389v1M696.5 389v1M697.5 390v1M698.5 390v1M699.5 391v1M700.5 391v1M701.5 392v1M702.5 392v1M703.5 392v1M704.5 393v1M705.5 393v1M706.5 394v1M707.5 394v1M708.5 395v1M709.5 395v1M710.5 396v1M711.5 396v1M712.5 396v1M713.5 396v1M714.5 397v1M715.5 397v1M716.5 397v1M717.5 397v1M718.5 398v1M719.5 397v1M720.5 397v1M721.5 396v1M722.5 396v1M723.5 395v1M724.5 395v1M725.5 394v1M726.5 394v1M727.5 393v1M728.5 392v1M729.5 392v1M730.5 391v1M731.5 390v1M732.5 390v1M733.5 389v1M734.5 389v1M735.5 388v1M736.5 388v1M737.5 388v1M738.5 388v1M739.5 388v1M740.5 388v1M741.5 388v1M742.5 388v1M743.5 387v1M744.5 387v1M745.5 386v1M746.5 385v1M747.5 385v1M748.5 384v1M749.5 383v1M750.5 383v1M751.5 382v1M752.5 381v1M753.5 380v1M754.5 379v1M755.5 378v1M756.5 377v1M757.5 376v1M758.5 376v1M759.5 375v1M760.5 374v1M761.5 373v1M762.5 372v1M763.5 371v1M764.5 370v1M765.5 369v1M766.5 368v1M767.5 367v1M768.5 366v1M769.5 365v1M770.5 363v2M771.5 362v1M772.5 361v1M773.5 360v1M774.5 360v1M775.5 359v1M776.5 358v1M777.5 357v1M778.5 357v1M779.5 356v1M780.5 355v1M781.5 354v1M782.5 354v1M783.5 353v1M784.5 353v1M785.5 353v1M786.5 353v1M787.5 353v1M788.5 352v1M789.5 352v1M790.5 352v1M791.5 352v1M792.5 351v1M793.5 351v1M794.5 351v1M795.5 350v1M796.5 350v1M797.5 350v1M798.5 350v1M799.5 349v1M800.5 348v1M801.5 348v1M802.5 347v1M803.5 347v1M804.5 346v1M805.5 346v1M806.5 345v1M807.5 344v1M808.5 344v1M809.5 343v1M810.5 342v1M811.5 342v1M812.5 341v1M813.5 340v1M814.5 340v1M815.5 339v1M816.5 338v1M817.5 337v1M818.5 336v1M819.5 335v1M820.5 334v1M821.5 333v1M822.5 332v1M823.5 331v1M824.5 329v2M825.5 328v1M826.5 327v1M827.5 326v1M828.5 324v2M829.5 323v1M830.5 322v1M831.5 320v2M832.5 319v1M833.5 317v2M834.5 316v1M835.5 314v2M836.5 313v1M837.5 312v1M838.5 311v1M839.5 310v1M840.5 309v1M841.5 308v1M842.5 306v2M843.5 305v1M844.5 304v1M845.5 303v1M846.5 302v1M847.5 300v2M848.5 299v1M849.5 297v2M850.5 296v1M851.5 294v2M852.5 293v1M853.5 292v1M854.5 291v1M855.5 289v2M856.5 288v1M857.5 287v1M858.5 285v2M859.5 284v1M860.5 283v1M861.5 281v2M862.5 280v1M863.5 279v1M864.5 277v2M865.5 276v1M866.5 275v1M867.5 274v1M868.5 272v2M869.5 271v1M870.5 270v1M871.5 269v1M872.5 268v1M873.5 267v1M874.5 267v1M875.5 266v1M876.5 265v1M877.5 264v1M878.5 264v1M879.5 263v1M880.5 262v1M881.5 261v1M882.5 261v1M883.5 260v1M884.5 259v1M885.5 259v1M886.5 258v1M887.5 257v1M888.5 256v1M889.5 256v1M890.5 255v1M891.5 254v1M892.5 253v1M893.5 252v1M894.5 252v1M895.5 251v1M896.5 250v1M897.5 249v1M898.5 248v1M899.5 247v1M900.5 246v1M901.5 245v1M902.5 245v1M903.5 244v1M904.5 243v1M905.5 242v1M906.5 242v1M907.5 241v1M908.5 240v1M909.5 239v1M910.5 239v1M911.5 238v1M912.5 237v1M913.5 237v1M914.5 236v1M915.5 235v1M916.5 235v1M917.5 234v1M918.5 234v1M919.5 233v1M920.5 232v1M921.5 232v1M922.5 231v1M923.5 230v1M924.5 230v1M925.5 229v1M926.5 229v1M927.5 228v1M928.5 227v1M929.5 227v1M930.5 226v1M931.5 225v1M932.5 225v1M933.5 224v1M934.5 224v1M935.5 223v1M936.5 222v1M937.5 222v1M938.5 221v1M939.5 220v1M940.5 220v1M941.5 219v1M942.5 219v1M943.5 218v1M944.5 217v1M945.5 217v1M946.5 216v1M947.5 215v1M948.5 215v1M949.5 214v1M950.5 214v1M951.5 213v1M952.5 213v1M953.5 212v1M954.5 212v1M955.5 211v1M956.5 211v1M957.5 210v1M958.5 210v1M959.5 209v1M960.5 208v1M961.5 208v1M962.5 207v1M963.5 206v1M964.5 206v1M965.5 205v1M966.5 205v1M967.5 204v1M968.5 204v1M969.5 203v1M970.5 203v1M971.5 202v1M972.5 202v1M973.5 201v1M974.5 201v1M975.5 200v1M976.5 200v1M977.5 199v1M978.5 199v1M979.5 198v1M980.5 198v1M981.5 197v1M982.5 197v1M983.5 197v1M984.5 196v1M985.5 196v1M986.5 196v1M987.5 195v1M988.5 195v1M989.5 194v1M990.5 194v1M991.5 194v1M992.5 193v1M993.5 193v1M994.5 192v1M995.5 192v1M996.5 191v1M997.5 191v1M998.5 191v1M999.5 190v1M1000.5 190v1M1001.5 189v1M1002.5 189v1M1003.5 189v1M1004.5 188v1M1005.5 188v1M1006.5 188v1M1007.5 188v1M1008.5 188v1M1009.5 188v1M1010.5 188v1M1011.5 188v1M1012.5 188v1M1013.5 188v1M1014.5 189v1M1015.5 189v1M1016.5 189v1M1017.5 189v1M1018.5 189v1M1019.5 189v1M1020.5 189v1M1021.5 189v1M1022.5 189v1M1023.5 189v1M1024.5 189v1M1025.5 190v1M1026.5 190v1M1027.5 190v1M1028.5 190v1M1029.5 190v1M1030.5 191v1M1031.5 191v1M1032.5 191v1M1033.5 192v1M1034.5 192v1M1035.5 192v1M1036.5 193v1M1037.5 193v1M1038.5 194v1M1039.5 193v1M1040.5 193v1M1041.5 192v1M1042.5 192v1M1043.5 191v1M1044.5 191v1M1045.5 190v1M1046.5 190v1M1047.5 189v1M1048.5 189v1M1049.5 188v1M1050.5 188v1M1051.5 188v1M1052.5 187v1M1053.5 187v1M1054.5 187v1M1055.5 186v1M1056.5 186v1M1057.5 185v1M1058.5 185v1M1059.5 185v1M1060.5 184v1M1061.5 184v1M1062.5 184v1M1063.5 183v1M1064.5 183v1M1065.5 183v1M1066.5 183v1M1067.5 183v1M1068.5 183v1M1069.5 183v1M1070.5 183v1M1071.5 183v1M1072.5 183v1M1073.5 183v1M1074.5 183v1M1075.5 183v1M1076.5 183v1M1077.5 183v1M1078.5 184v1M1079.5 183v1M1080.5 183v1M1081.5 182v1M1082.5 182v1M1083.5 182v1M1084.5 181v1M1085.5 181v1M1086.5 181v1M1087.5 180v1M1088.5 180v1M1089.5 180v1M1090.5 180v1M1091.5 180v1M1092.5 179v1M1093.5 179v1M1094.5 179v1M1095.5 179v1M1096.5 179v1M1097.5 179v1M1098.5 179v1M1099.5 179v1M1100.5 179v1M1101.5 179v1M1102.5 179v1M1103.5 179v1M1104.5 179v1M1105.5 179v1M1106.5 180v1M1107.5 180v1M1108.5 180v1M1109.5 180v1M1110.5 180v1M1111.5 180v1M1112.5 180v1M1113.5 180v1M1114.5 180v1M1115.5 179v1M1116.5 179v1M1117.5 179v1M1118.5 179v1M1119.5 179v1M1120.5 179v1M1121.5 178v1M1122.5 178v1M1123.5 178v1M1124.5 178v1M1125.5 178v1M1126.5 178v1M1127.5 178v1M1128.5 178v1M1129.5 178v1M1130.5 178v1M1131.5 178v1M1132.5 178v1M1133.5 178v1M1134.5 178v1M1135.5 178v1M1136.5 178v1M1137.5 178v1M1138.5 178v1M1139.5 178v1M1140.5 179v1M1141.5 179v1M1142.5 179v1M1143.5 180v1M1144.5 180v1M1145.5 181v1M1146.5 181v1M1147.5 182v1M1148.5 182v1M1149.5 183v1M1150.5 184v1M1151.5 184v1M1152.5 184v1M1153.5 185v1M1154.5 185v1M1155.5 186v1M1156.5 186v1M1157.5 187v1M1158.5 187v1M1159.5 188v1M1160.5 188v1M1161.5 189v1M1162.5 190v1M1163.5 190v1M1164.5 191v1M1165.5 191v1M1166.5 192v1M1167.5 192v1M1168.5 193v1M1169.5 193v1M1170.5 194v1M1171.5 194v1M1172.5 195v1M1173.5 195v1M1174.5 196v1M1175.5 196v1M1176.5 196v1M1177.5 196v1M1178.5 197v1M1179.5 197v1M1180.5 197v1M1181.5 198v1M1182.5 198v1M1183.5 198v1M1184.5 199v1M1185.5 199v1M1186.5 200v1M1187.5 200v1M1188.5 200v1M1189.5 201v1M1190.5 201v1M1191.5 201v1M1192.5 202v1M1193.5 202v1M1194.5 202v1M1195.5 203v1M1196.5 203v1M1197.5 203v1M1198.5 204v1M1199.5 204v1M1200.5 204v1M1201.5 204v1M1202.5 205v1M1203.5 205v1M1204.5 205v1M1205.5 206v1M1206.5 206v1M1207.5 207v1M1208.5 207v1M1209.5 208v1M1210.5 208v1M1211.5 209v1M1212.5 209v1M1213.5 210v1M1214.5 211v1M1215.5 211v1M1216.5 212v1M1217.5 212v1M1218.5 213v1M1219.5 214v1M1220.5 214v1M1221.5 215v1M1222.5 216v1M1223.5 216v1M1224.5 217v1M1225.5 218v1M1226.5 219v1M1227.5 220v1M1228.5 221v1M1229.5 222v1M1230.5 223v1M1231.5 223v1M1232.5 224v1M1233.5 225v1M1234.5 226v1M1235.5 226v1M1236.5 227v1M1237.5 228v1M1238.5 229v1M1239.5 229v1M1240.5 230v1M1241.5 231v1M1242.5 232v1M1243.5 232v1M1244.5 233v1M1245.5 234v1M1246.5 235v1M1247.5 235v1M1248.5 236v1M1249.5 237v1M1250.5 238v1M1251.5 238v1M1252.5 239v1M1253.5 240v1M1254.5 241v1M1255.5 241v1M1256.5 242v1M1257.5 242v1M1258.5 243v1M1259.5 243v1M1260.5 244v1M1261.5 244v1M1262.5 245v1M1263.5 245v1M1264.5 246v1M1265.5 246v1M1266.5 246v1M1267.5 247v1M1268.5 247v1M1269.5 247v1M1270.5 248v1M1271.5 248v1M1272.5 248v1M1273.5 248v1M1274.5 248v1M1275.5 248v1M1276.5 249v1M1277.5 249v1M1278.5 249v1M1279.5 249v1M1280.5 249v1M1281.5 250v1M1282.5 250v1M1283.5 250v1M1284.5 250v1M1285.5 250v1M1286.5 251v1M1287.5 251v1M1288.5 251v1M1289.5 251v1M1290.5 251v1M1291.5 251v1M1292.5 251v1M1293.5 251v1M1294.5 251v1M1295.5 251v1M1296.5 251v1M1297.5 251v1M1298.5 251v1M1299.5 250v1M1300.5 250v1M1301.5 250v1M1302.5 250v1" fill="none" stroke="#ffff00" stroke-width="1" shape-rendering="crispEdges"/>
<path d="M6.5 535v3M7.5 533v2M8.5 530v3M9.5 528v2M10.5 525v3M11.5 523v2M12.5 520v3M13.5 518v2M14.5 515v3M15.5 511v4M16.5 507v4M17.5 503v4M18.5 500v3M19.5 496v4M20.5 492v4M21.5 488v4M22.5 485v3M23.5 481v4M24.5 477v4M25.5 473v4M26.5 470v3M27.5 466v4M28.5 462v4M29.5 458v4M30.5 455v3M31.5 452v3M32.5 449v3M33.5 446v3M34.5 442v4M35.5 439v3M36.5 436v3M37.5 433v3M38.5 430v3M39.5 428v2M40.5 425v3M41.5 422v3M42.5 420v2M43.5 417v3M44.5 414v3M45.5 412v2M46.5 409v3M47.5 406v3M48.5 403v3M49.5 400v3M50.5 398v2M51.5 395v3M52.5 392v3M53.5 389v3M54.5 386v3M55.5 383v3M56.5 380v3M57.5 377v3M58.5 374v3M59.5 371v3M60.5 368v3M61.5 365v3M62.5 364v1M63.5 362v2M64.5 361v1M65.5 359v2M66.5 358v1M67.5 356v2M68.5 355v1M69.5 353v2M70.5 352v1M71.5 351v1M72.5 350v1M73.5 350v1M74.5 349v1M75.5 348v1M76.5 347v1M77.5 346v1M78.5 346v1M79.5 345v1M80.5 344v1M81.5 343v1M82.5 342v1M83.5 341v1M84.5 340v1M85.5 339v1M86.5 338v1M87.5 337v1M88.5 336v1M89.5 335v1M90.5 333v2M91.5 332v1M92.5 331v1M93.5 330v1M94.5 329v1M95.5 328v1M96.5 326v2M97.5 325v1M98.5 324v1M99.5 323v1M100.5 321v2M101.5 320v1M102.5 319v1M103.5 318v1M104.5 317v1M105.5 317v1M106.5 316v1M107.5 315v1M108.5 315v1M109.5 314v1M110.5 314v1M111.5 313v1M112.5 313v1M113.5 312v1M114.5 312v1M115.5 311v1M116.5 311v1M117.5 310v1M118.5 310v1M119.5 309v1M120.5 309v1M121.5 308v1M122.5 308v1M123.5 307v1M124.5 307v1M125.5 306v1M126.5 306v1M127.5 305v1M128.5 305v1M129.5 304v1M130.5 304v1M131.5 304v1M132.5 303v1M133.5 303v1M134.5 303v1M135.5 302v1M136.5 302v1M137.5 301v1M138.5 301v1M139.5 300v1M140.5 300v1M141.5 299v1M142.5 299v1M143.5 298v1M144.5 298v1M145.5 297v1M146.5 296v1M147.5 296v1M148.5 295v1M149.5 294v1M150.5 294v1M151.5 293v1M152.5 292v1M153.5 291v1M154.5 289v2M155.5 288v1M156.5 287v1M157.5 286v1M158.5 285v1M159.5 284v1M160.5 283v1M161.5 283v1M162.5 282v1M163.5 281v1M164.5 280v1M165.5 279v1M166.5 279v1M167.5 278v1M168.5 276v2M169.5 275v1M170.5 274v1M171.5 273v1M172.5 271v2M173.5 270v1M174.5 269v1M175.5 267v2M176.5 265v2M177.5 263v2M178.5 262v1M179.5 260v2M180.5 258v2M181.5 256v2M182.5 255v1M183.5 253v2M184.5 251v2M185.5 249v2M186.5 247v2M187.5 245v2M188.5 243v2M189.5 241v2M190.5 239v2M191.5 238v1M192.5 236v2M193.5 235v1M194.5 234v1M195.5 233v1M196.5 231v2M197.5 230v1M198.5 229v1M199.5 228v1M200.5 226v2M201.5 225v1M202.5 224v1M203.5 223v1M204.5 221v2M205.5 220v1M206.5 219v1M207.5 218v1M208.5 217v1M209.5 216v1M210.5 215v1M211.5 214v1M212.5 214v1M213.5 213v1M214.5 212v1M215.5 211v1M216.5 210v1M217.5 210v1M218.5 209v1M219.5 208v1M220.5 207v1M221.5 206v1M222.5 206v1M223.5 205v1M224.5 205v1M225.5 204v1M226.5 204v1M227.5 203v1M228.5 203v1M229.5 202v1M230.5 202v1M231.5 201v1M232.5 201v1M233.5 200v1M234.5 200v1M235.5 199v1M236.5 198v1M237.5 198v1M238.5 197v1M239.5 196v1M240.5 195v1M241.5 194v1M242.5 193v1M243.5 192v1M244.5 191v1M245.5 190v1M246.5 190v1M247.5 189v1M248.5 188v1M249.5 187v1M250.5 185v2M251.5 184v1M252.5 183v1M253.5 182v1M254.5 181v1M255.5 180v1M256.5 179v1M257.5 179v1M258.5 178v1M259.5 177v1M260.5 177v1M261.5 176v1M262.5 176v1M263.5 174v2M264.5 173v1M265.5 172v1M266.5 170v2M267.5 169v1M268.5 168v1M269.5 166v2M270.5 165v1M271.5 164v1M272.5 163v1M273.5 162v1M274.5 161v1M275.5 160v1M276.5 159v1M277.5 158v1M278.5 157v1M279.5 156v1M280.5 156v1M281.5 155v1M282.5 155v1M283.5 154v1M284.5 154v1M285.5 153v1M286.5 153v1M287.5 152v1M288.5 152v1M289.5 152v1M290.5 152v1M291.5 152v1M292.5 152v1M293.5 152v1M294.5 152v1M295.5 152v1M296.5 153v1M297.5 154v1M298.5 154v1M299.5 155v1M300.5 156v1M301.5 156v1M302.5 157v1M303.5 157v1M304.5 158v1M305.5 158v1M306.5 159v1M307.5 159v1M308.5 160v1M309.5 160v1M310.5 161v1M311.5 162v1M312.5 163v1M313.5 164v1M314.5 165v2M315.5 167v1M316.5 168v1M317.5 169v1M318.5 170v1M319.5 171v1M320.5 172v1M321.5 173v1M322.5 174v2M323.5 176v1M324.5 177v1M325.5 178v1M326.5 179v1M327.5 179v1M328.5 180v1M329.5 181v1M330.5 182v1M331.5 183v1M332.5 184v1M333.5 185v1M334.5 186v1M335.5 186v1M336.5 187v1M337.5 188v1M338.5 189v1M339.5 190v1M340.5 190v1M341.5 191v1M342.5 192v1M343.5 193v1M344.5 193v1M345.5 194v1M346.5 195v1M347.5 195v1M348.5 196v1M349.5 196v1M350.5 197v1M351.5 198v1M352.5 199v1M353.5 199v1M354.5 200v1M355.5 201v1M356.5 202v1M357.5 203v1M358.5 204v1M359.5 204v1M360.5 205v1M361.5 206v1M362.5 207v1M363.5 207v1M364.5 208v1M365.5 209v1M366.5 210v1M367.5 210v1M368.5 211v1M369.5 212v1M370.5 213v1M371.5 214v1M372.5 215v1M373.5 216v1M374.5 217v1M375.5 218v2M376.5 220v1M377.5 221v2M378.5 223v1M379.5 224v2M380.5 226v1M381.5 227v2M382.5 229v1M383.5 230v1M384.5 231v2M385.5 233v1M386.5 234v1M387.5 235v1M388.5 236v2M389.5 238v1M390.5 239v1M391.5 239v1M392.5 240v1M393.5 241v1M394.5 242v2M395.5 244v1M396.5 245v1M397.5 246v1M398.5 247v1M399.5 248v1M400.5 248v1M401.5 249v1M402.5 250v1M403.5 250v1M404.5 251v1M405.5 251v1M406.5 252v1M407.5 252v1M408.5 252v1M409.5 253v1M410.5 253v1M411.5 253v1M412.5 253v1M413.5 253v1M414.5 254v1M415.5 254v1M416.5 254v1M417.5 254v1M418.5 254v1M419.5 254v1M420.5 255v1M421.5 255v1M422.5 255v1M423.5 255v1M424.5 254v1M425.5 254v1M426.5 254v1M427.5 253v1M428.5 253v1M429.5 252v1M430.5 252v1M431.5 252v1M432.5 252v1M433.5 253v1M434.5 253v1M435.5 253v1M436.5 253v1M437.5 253v1M438.5 254v1M439.5 254v1M440.5 255v1M441.5 255v1M442.5 256v1M443.5 257v1M444.5 257v1M445.5 258v1M446.5 259v1M447.5 259v1M448.5 260v1M449.5 260v1M450.5 261v1M451.5 261v1M452.5 262v1M453.5 262v1M454.5 263v1M455.5 263v1M456.5 264v1M457.5 264v1M458.5 265v1M459.5 266v1M460.5 266v1M461.5 267v1M462.5 268v1M463.5 268v1M464.5 269v1M465.5 269v1M466.5 270v1M467.5 270v1M468.5 271v1M469.5 271v1M470.5 272v1M471.5 272v1M472.5 273v1M473.5 273v1M474.5 274v1M475.5 275v1M476.5 275v1M477.5 276v1M478.5 277v1M479.5 277v1M480.5 277v1M481.5 278v1M482.5 278v1M483.5 279v1M484.5 279v1M485.5 280v1M486.5 280v1M487.5 280v1M488.5 279v1M489.5 279v1M490.5 279v1M491.5 278v1M492.5 278v1M493.5 278v1M494.5 278v1M495.5 277v1M496.5 277v1M497.5 277v1M498.5 277v1M499.5 277v1M500.5 277v1M501.5 277v1M502.5 277v1M503.5 277v1M504.5 278v1M505.5 279v1M506.5 279v1M507.5 280v1M508.5 281v1M509.5 281v1M510.5 282v1M511.5 283v1M512.5 283v1M513.5 284v1M514.5 285v1M515.5 285v1M516.5 286v1M517.5 286v1M518.5 287v1M519.5 287v1M520.5 288v1M521.5 288v1M522.5 288v1M523.5 288v1M524.5 289v1M525.5 289v1M526.5 289v1M527.5 290v1M528.5 291v2M529.5 293v1M530.5 294v1M531.5 295v1M532.5 296v2M533.5 298v1M534.5 299v1M535.5 299v1M536.5 299v1M537.5 299v1M538.5 300v1M539.5 300v1M540.5 300v1M541.5 300v1M542.5 301v1M543.5 301v1M544.5 301v1M545.5 301v1M546.5 301v1M547.5 301v1M548.5 301v1M549.5 301v1M550.5 301v1M551.5 301v1M552.5 301v1M553.5 302v1M554.5 302v1M555.5 302v1M556.5 303v1M557.5 303v1M558.5 304v1M559.5 304v1M560.5 304v1M561.5 304v1M562.5 305v1M563.5 305v1M564.5 305v1M565.5 305v1M566.5 306v1M567.5 305v1M568.5 304v1M569.5 304v1M570.5 303v1M571.5 302v1M572.5 302v1M573.5 301v1M574.5 301v1M575.5 302v1M576.5 303v1M577.5 304v1M578.5 305v1M579.5 306v1M580.5 307v1M581.5 308v1M582.5 309v1M583.5 309v1M584.5 310v1M585.5 311v1M586.5 312v1M587.5 312v1M588.5 313v1M589.5 314v1M590.5 315v1M591.5 316v1M592.5 317v1M593.5 318v1M594.5 319v2M595.5 321v1M596.5 322v1M597.5 323v1M598.5 324v1M599.5 325v1M600.5 326v2M601.5 328v2M602.5 330v1M603.5 331v2M604.5 333v2M605.5 335v2M606.5 337v1M607.5 338v2M608.5 340v2M609.5 342v1M610.5 343v2M611.5 345v1M612.5 346v2M613.5 348v2M614.5 350v1M615.5 350v1M616.5 351v1M617.5 351v1M618.5 352v1M619.5 352v1M620.5 353v1M621.5 353v1M622.5 354v1M623.5 354v1M624.5 355v1M625.5 356v1M626.5 357v1M627.5 357v1M628.5 358v1M629.5 359v1M630.5 360v1M631.5 360v1M632.5 361v1M633.5 361v1M634.5 362v1M635.5 362v1M636.5 363v1M637.5 363v1M638.5 364v1M639.5 364v1M640.5 364v1M641.5 364v1M642.5 365v1M643.5 365v1M644.5 365v1M645.5 365v1M646.5 366v1M647.5 367v1M648.5 368v2M649.5 370v2M650.5 372v1M651.5 373v2M652.5 375v2M653.5 377v2M654.5 379v1M655.5 380v2M656.5 382v1M657.5 383v2M658.5 385v1M659.5 386v2M660.5 388v1M661.5 389v2M662.5 391v1M663.5 391v1M664.5 392v2M665.5 394v1M666.5 395v1M667.5 396v1M668.5 397v2M669.5 399v1M670.5 400v1M671.5 400v1M672.5 401v1M673.5 401v1M674.5 401v1M675.5 402v1M676.5 402v1M677.5 402v1M678.5 403v1M679.5 404v1M680.5 405v1M681.5 406v1M682.5 407v1M683.5 408v1M684.5 409v1M685.5 410v1M686.5 411v1M687.5 411v1M688.5 412v1M689.5 412v1M690.5 413v1M691.5 413v1M692.5 414v1M693.5 414v1M694.5 415v1M695.5 415v1M696.5 416v1M697.5 416v1M698.5 417v1M699.5 417v1M700.5 418v1M701.5 418v1M702.5 419v1M703.5 418v1M704.5 418v1M705.5 417v1M706.5 417v1M707.5 417v1M708.5 416v1M709.5 416v1M710.5 416v1M711.5 415v1M712.5 414v1M713.5 413v1M714.5 411v2M715.5 410v1M716.5 409v1M717.5 408v1M718.5 407v1M719.5 406v1M720.5 404v2M721.5 403v1M722.5 402v1M723.5 401v1M724.5 399v2M725.5 398v1M726.5 398v1M727.5 397v1M728.5 396v1M729.5 395v1M730.5 395v1M731.5 394v1M732.5 393v1M733.5 392v1M734.5 392v1M735.5 391v1M736.5 390v1M737.5 389v1M738.5 389v1M739.5 388v1M740.5 387v1M741.5 386v1M742.5 386v1M743.5 385v1M744.5 383v2M745.5 382v1M746.5 381v1M747.5 380v1M748.5 378v2M749.5 377v1M750.5 376v1M751.5 374v2M752.5 373v1M753.5 371v2M754.5 370v1M755.5 368v2M756.5 367v1M757.5 365v2M758.5 364v1M759.5 362v2M760.5 360v2M761.5 358v2M762.5 357v1M763.5 355v2M764.5 353v2M765.5 351v2M766.5 350v1M767.5 348v2M768.5 346v2M769.5 345v1M770.5 343v2M771.5 342v1M772.5 340v2M773.5 338v2M774.5 337v1M775.5 335v2M776.5 333v2M777.5 331v2M778.5 330v1M779.5 328v2M780.5 326v2M781.5 325v1M782.5 324v1M783.5 323v1M784.5 322v1M785.5 321v1M786.5 319v2M787.5 318v1M788.5 317v1M789.5 316v1M790.5 315v1M791.5 314v1M792.5 313v1M793.5 312v1M794.5 312v1M795.5 311v1M796.5 310v1M797.5 309v1M798.5 309v1M799.5 308v1M800.5 306v2M801.5 305v1M802.5 304v1M803.5 303v1M804.5 301v2M805.5 300v1M806.5 299v1M807.5 298v1M808.5 296v2M809.5 295v1M810.5 294v1M811.5 293v1M812.5 291v2M813.5 290v1M814.5 289v1M815.5 288v1M816.5 288v1M817.5 287v1M818.5 286v1M819.5 286v1M820.5 285v1M821.5 284v1M822.5 284v1M823.5 283v1M824.5 282v1M825.5 282v1M826.5 281v1M827.5 281v1M828.5 280v1M829.5 280v1M830.5 279v1M831.5 279v1M832.5 279v1M833.5 278v1M834.5 278v1M835.5 278v1M836.5 278v1M837.5 277v1M838.5 277v1M839.5 277v1M840.5 276v1M841.5 276v1M842.5 276v1M843.5 275v1M844.5 275v1M845.5 275v1M846.5 275v1M847.5 274v1M848.5 273v1M849.5 273v1M850.5 272v1M851.5 271v1M852.5 271v1M853.5 270v1M854.5 270v1M855.5 269v1M856.5 268v1M857.5 268v1M858.5 267v1M859.5 267v1M860.5 266v1M861.5 266v1M862.5 265v1M863.5 265v1M864.5 264v1M865.5 264v1M866.5 263v1M867.5 263v1M868.5 262v1M869.5 262v1M870.5 262v1M871.5 261v1M872.5 261v1M873.5 260v1M874.5 260v1M875.5 259v1M876.5 259v1M877.5 258v1M878.5 258v1M879.5 258v1M880.5 257v1M881.5 257v1M882.5 257v1M883.5 256v1M884.5 256v1M885.5 255v1M886.5 255v1M887.5 254v1M888.5 252v2M889.5 251v1M890.5 250v1M891.5 249v1M892.5 247v2M893.5 246v1M894.5 246v1M895.5 244v2M896.5 243v1M897.5 241v2M898.5 240v1M899.5 238v2M900.5 237v1M901.5 235v2M902.5 234v1M903.5 232v2M904.5 230v2M905.5 228v2M906.5 227v1M907.5 225v2M908.5 223v2M909.5 221v2M910.5 220v1M911.5 219v1M912.5 217v2M913.5 216v1M914.5 215v1M915.5 214v1M916.5 212v2M917.5 211v1M918.5 210v1M919.5 209v1M920.5 207v2M921.5 206v1M922.5 205v1M923.5 204v1M924.5 202v2M925.5 201v1M926.5 200v1M927.5 199v1M928.5 198v1M929.5 197v1M930.5 195v2M931.5 194v1M932.5 193v1M933.5 192v1M934.5 191v1M935.5 190v1M936.5 189v1M937.5 188v1M938.5 186v2M939.5 185v1M940.5 184v1M941.5 183v1M942.5 182v1M943.5 181v1M944.5 181v1M945.5 180v1M946.5 180v1M947.5 179v1M948.5 178v1M949.5 178v1M950.5 177v1M951.5 177v1M952.5 176v1M953.5 176v1M954.5 176v1M955.5 175v1M956.5 175v1M957.5 175v1M958.5 175v1M959.5 174v1M960.5 174v1M961.5 174v1M962.5 174v1M963.5 174v1M964.5 174v1M965.5 174v1M966.5 174v1M967.5 174v1M968.5 174v1M969.5 174v1M970.5 175v1M971.5 175v1M972.5 175v1M973.5 175v1M974.5 176v1M975.5 176v1M976.5 176v1M977.5 176v1M978.5 177v1M979.5 177v1M980.5 177v1M981.5 177v1M982.5 178v1M983.5 178v1M984.5 178v1M985.5 178v1M986.5 178v1M987.5 178v1M988.5 178v1M989.5 178v1M990.5 178v1M991.5 178v1M992.5 178v1M993.5 178v1M994.5 178v1M995.5 178v1M996.5 178v1M997.5 178v1M998.5 179v1M999.5 179v1M1000.5 179v1M1001.5 180v1M1002.5 180v1M1003.5 181v1M1004.5 181v1M1005.5 182v1M1006.5 182v1M1007.5 183v1M1008.5 184v1M1009.5 185v1M1010.5 186v1M1011.5 187v1M1012.5 188v1M1013.5 189v1M1014.5 190v1M1015.5 190v1M1016.5 191v1M1017.5 192v1M1018.5 193v1M1019.5 194v1M1020.5 195v1M1021.5 196v1M1022.5 197v1M1023.5 198v1M1024.5 198v1M1025.5 199v1M1026.5 200v1M1027.5 200v1M1028.5 201v1M1029.5 201v1M1030.5 202v1M1031.5 203v1M1032.5 203v1M1033.5 204v1M1034.5 205v1M1035.5 205v1M1036.5 206v1M1037.5 206v1M1038.5 207v1M1039.5 207v1M1040.5 207v1M1041.5 207v1M1042.5 207v1M1043.5 207v1M1044.5 207v1M1045.5 207v1M1046.5 207v1M1047.5 207v1M1048.5 207v1M1049.5 207v1M1050.5 207v1M1051.5 207v1M1052.5 207v1M1053.5 207v1M1054.5 207v1M1055.5 206v1M1056.5 205v1M1057.5 204v1M1058.5 203v1M1059.5 202v1M1060.5 201v1M1061.5 200v1M1062.5 200v1M1063.5 199v1M1064.5 198v1M1065.5 197v1M1066.5 197v1M1067.5 196v1M1068.5 195v1M1069.5 194v1M1070.5 194v1M1071.5 193v1M1072.5 192v1M1073.5 192v1M1074.5 191v1M1075.5 190v1M1076.5 190v1M1077.5 189v1M1078.5 189v1M1079.5 188v1M1080.5 187v1M1081.5 186v1M1082.5 184v2M1083.5 183v1M1084.5 182v1M1085.5 181v1M1086.5 180v1M1087.5 179v1M1088.5 178v1M1089.5 177v1M1090.5 177v1M1091.5 176v1M1092.5 175v1M1093.5 174v1M1094.5 174v1M1095.5 173v1M1096.5 173v1M1097.5 172v1M1098.5 172v1M1099.5 171v1M1100.5 171v1M1101.5 170v1M1102.5 170v1M1103.5 170v1M1104.5 169v1M1105.5 169v1M1106.5 169v1M1107.5 168v1M1108.5 168v1M1109.5 167v1M1110.5 167v1M1111.5 167v1M1112.5 166v1M1113.5 166v1M1114.5 166v1M1115.5 165v1M1116.5 165v1M1117.5 164v1M1118.5 164v1M1119.5 163v1M1120.5 163v1M1121.5 162v1M1122.5 162v1M1123.5 161v1M1124.5 161v1M1125.5 160v1M1126.5 160v1M1127.5 159v1M1128.5 159v1M1129.5 159v1M1130.5 158v1M1131.5 158v1M1132.5 158v1M1133.5 157v1M1134.5 157v1M1135.5 157v1M1136.5 157v1M1137.5 158v1M1138.5 158v1M1139.5 158v1M1140.5 158v1M1141.5 158v1M1142.5 159v1M1143.5 159v1M1144.5 160v1M1145.5 160v1M1146.5 161v1M1147.5 162v1M1148.5 162v1M1149.5 163v1M1150.5 164v1M1151.5 165v1M1152.5 166v2M1153.5 168v1M1154.5 169v1M1155.5 170v1M1156.5 171v2M1157.5 173v1M1158.5 174v1M1159.5 175v2M1160.5 177v1M1161.5 178v1M1162.5 179v2M1163.5 181v1M1164.5 182v1M1165.5 183v2M1166.5 185v1M1167.5 186v2M1168.5 188v2M1169.5 190v2M1170.5 192v2M1171.5 194v2M1172.5 196v2M1173.5 198v2M1174.5 200v1M1175.5 201v2M1176.5 203v1M1177.5 204v1M1178.5 205v2M1179.5 207v1M1180.5 208v1M1181.5 209v2M1182.5 211v1M1183.5 212v2M1184.5 214v2M1185.5 216v1M1186.5 217v2M1187.5 219v1M1188.5 220v2M1189.5 222v2M1190.5 224v1M1191.5 225v2M1192.5 227v2M1193.5 229v1M1194.5 230v2M1195.5 232v1M1196.5 233v2M1197.5 235v2M1198.5 237v1M1199.5 238v2M1200.5 240v1M1201.5 241v1M1202.5 242v2M1203.5 244v1M1204.5 245v1M1205.5 246v2M1206.5 248v1M1207.5 249v1M1208.5 250v1M1209.5 251v1M1210.5 252v1M1211.5 253v1M1212.5 254v1M1213.5 255v1M1214.5 256v1M1215.5 256v1M1216.5 257v1M1217.5 258v1M1218.5 259v1M1219.5 260v1M1220.5 260v1M1221.5 261v1M1222.5 262v1M1223.5 262v1M1224.5 263v1M1225.5 263v1M1226.5 263v1M1227.5 264v1M1228.5 264v1M1229.5 264v1M1230.5 265v1M1231.5 265v1M1232.5 266v1M1233.5 266v1M1234.5 267v1M1235.5 267v1M1236.5 268v1M1237.5 268v1M1238.5 269v1M1239.5 269v1M1240.5 269v1M1241.5 270v1M1242.5 270v1M1243.5 271v1M1244.5 271v1M1245.5 272v1M1246.5 272v1M1247.5 272v1M1248.5 272v1M1249.5 271v1M1250.5 271v1M1251.5 271v1M1252.5 271v1M1253.5 271v1M1254.5 271v1M1255.5 270v1M1256.5 269v1M1257.5 268v1M1258.5 267v1M1259.5 266v1M1260.5 265v1M1261.5 264v1M1262.5 263v1M1263.5 262v1M1264.5 261v1M1265.5 260v1M1266.5 259v1M1267.5 258v1M1268.5 257v1M1269.5 256v1M1270.5 255v1M1271.5 255v1M1272.5 254v1M1273.5 254v1M1274.5 253v1M1275.5 253v1M1276.5 252v1M1277.5 252v1M1278.5 252v1M1279.5 251v1M1280.5 250v1M1281.5 250v1M1282.5 249v1M1283.5 249v1M1284.5 248v1M1285.5 248v1M1286.5 247v1M1287.5 246v1M1288.5 244v2M1289.5 243v1M1290.5 242v1M1291.5 241v1M1292.5 239v2M1293.5 238v1M1294.5 238v1M1295.5 237v1M1296.5 236v1M1297.5 235v1M1298.5 235v1M1299.5 234v1M1300.5 233v1M1301.5 232v1M1302.5 232v1" fill="none" stroke="#ff0000" stroke-width="1" shape-rendering="crispEdges"/>
<path d="M6.5 404v3M7.5 401v3M8.5 398v3M9.5 395v3M10.5 392v3M11.5 390v2M12.5 387v3M13.5 384v3M14.5 381v3M15.5 378v3M16.5 375v3M17.5 372v3M18.5 370v2M19.5 367v3M20.5 364v3M21.5 361v3M22.5 359v2M23.5 357v2M24.5 355v2M25.5 352v3M26.5 350v2M27.5 347v3M28.5 345v2M29.5 343v2M30.5 341v2M31.5 339v2M32.5 337v2M33.5 335v2M34.5 334v1M35.5 332v2M36.5 330v2M37.5 328v2M38.5 327v1M39.5 326v1M40.5 325v1M41.5 324v1M42.5 324v1M43.5 323v1M44.5 322v1M45.5 321v1M46.5 320v1M47.5 320v1M48.5 321v1M49.5 321v1M50.5 322v1M51.5 322v1M52.5 323v1M53.5 323v1M54.5 324v1M55.5 324v1M56.5 324v1M57.5 324v1M58.5 324v1M59.5 324v1M60.5 324v1M61.5 324v1M62.5 324v1M63.5 324v1M64.5 324v1M65.5 324v1M66.5 325v1M67.5 325v1M68.5 325v1M69.5 325v1M70.5 325v1M71.5 326v1M72.5 327v1M73.5 328v1M74.5 329v1M75.5 329v1M76.5 330v1M77.5 331v1M78.5 332v1M79.5 333v1M80.5 333v1M81.5 334v1M82.5 334v1M83.5 335v1M84.5 335v1M85.5 336v1M86.5 336v1M87.5 335v1M88.5 335v1M89.5 334v1M90.5 333v1M91.5 333v1M92.5 332v1M93.5 331v1M94.5 331v1M95.5 329v2M96.5 328v1M97.5 326v2M98.5 325v1M99.5 323v2M100.5 322v1M101.5 320v2M102.5 319v1M103.5 317v2M104.5 315v2M105.5 313v2M106.5 312v1M107.5 310v2M108.5 308v2M109.5 306v2M110.5 305v1M111.5 304v1M112.5 302v2M113.5 301v1M114.5 300v1M115.5 299v1M116.5 297v2M117.5 296v1M118.5 295v1M119.5 294v1M120.5 292v2M121.5 291v1M122.5 290v1M123.5 289v1M124.5 287v2M125.5 286v1M126.5 285v1M127.5 283v2M128.5 282v1M129.5 281v1M130.5 279v2M131.5 278v1M132.5 277v1M133.5 275v2M134.5 274v1M135.5 272v2M136.5 271v1M137.5 270v1M138.5 268v2M139.5 267v1M140.5 266v1M141.5 265v1M142.5 264v1M143.5 262v2M144.5 261v1M145.5 260v1M146.5 258v2M147.5 257v1M148.5 256v1M149.5 254v2M150.5 253v1M151.5 252v1M152.5 252v1M153.5 252v1M154.5 252v1M155.5 251v1M156.5 251v1M157.5 251v1M158.5 251v1M159.5 250v1M160.5 250v1M161.5 250v1M162.5 250v1M163.5 250v1M164.5 250v1M165.5 250v1M166.5 250v1M167.5 249v1M168.5 247v2M169.5 246v1M170.5 245v1M171.5 244v1M172.5 242v2M173.5 241v1M174.5 239v2M175.5 237v2M176.5 234v3M177.5 232v2M178.5 229v3M179.5 227v2M180.5 224v3M181.5 222v2M182.5 219v3M183.5 217v2M184.5 215v2M185.5 213v2M186.5 210v3M187.5 208v2M188.5 206v2M189.5 204v2M190.5 202v2M191.5 201v1M192.5 199v2M193.5 198v1M194.5 197v1M195.5 196v1M196.5 194v2M197.5 193v1M198.5 192v1M199.5 191v1M200.5 190v1M201.5 189v1M202.5 187v2M203.5 186v1M204.5 185v1M205.5 184v1M206.5 184v1M207.5 183v1M208.5 182v1M209.5 181v1M210.5 179v2M211.5 178v1M212.5 177v1M213.5 176v1M214.5 175v1M215.5 173v2M216.5 172v1M217.5 171v1M218.5 169v2M219.5 168v1M220.5 167v1M221.5 165v2M222.5 164v1M223.5 164v1M224.5 164v1M225.5 164v1M226.5 164v1M227.5 164v1M228.5 164v1M229.5 164v1M230.5 165v1M231.5 165v1M232.5 166v1M233.5 166v1M234.5 167v1M235.5 168v1M236.5 168v1M237.5 169v1M238.5 170v1M239.5 170v1M240.5 171v1M241.5 171v1M242.5 172v1M243.5 172v1M244.5 173v1M245.5 173v1M246.5 174v1M247.5 173v1M248.5 172v1M249.5 172v1M250.5 171v1M251.5 171v1M252.5 170v1M253.5 170v1M254.5 169v1M255.5 169v1M256.5 168v1M257.5 168v1M258.5 167v1M259.5 167v1M260.5 166v1M261.5 166v1M262.5 166v1M263.5 164v2M264.5 162v2M265.5 161v1M266.5 159v2M267.5 158v1M268.5 156v2M269.5 154v2M270.5 153v1M271.5 152v1M272.5 152v1M273.5 151v1M274.5 151v1M275.5 150v1M276.5 150v1M277.5 149v1M278.5 149v1M279.5 148v1M280.5 147v1M281.5 146v1M282.5 145v1M283.5 144v1M284.5 144v1M285.5 143v1M286.5 142v1M287.5 141v1M288.5 139v2M289.5 138v1M290.5 137v1M291.5 136v1M292.5 134v2M293.5 133v1M294.5 132v1M295.5 133v2M296.5 135v1M297.5 136v2M298.5 138v1M299.5 139v2M300.5 141v1M301.5 142v2M302.5 144v1M303.5 145v1M304.5 146v2M305.5 148v1M306.5 149v1M307.5 150v1M308.5 151v2M309.5 153v1M310.5 154v1M311.5 155v2M312.5 157v2M313.5 159v3M314.5 162v2M315.5 164v3M316.5 167v2M317.5 169v2M318.5 171v3M319.5 174v4M320.5 178v3M321.5 181v4M322.5 185v3M323.5 188v4M324.5 192v3M325.5 195v4M326.5 199v3M327.5 202v3M328.5 205v3M329.5 208v3M330.5 211v4M331.5 215v3M332.5 218v3M333.5 221v3M334.5 224v2M335.5 226v2M336.5 228v2M337.5 230v2M338.5 232v3M339.5 235v2M340.5 237v2M341.5 239v2M342.5 241v2M343.5 243v2M344.5 245v2M345.5 247v2M346.5 249v2M347.5 251v2M348.5 253v2M349.5 255v2M350.5 257v2M351.5 259v1M352.5 259v1M353.5 260v1M354.5 260v1M355.5 261v1M356.5 261v1M357.5 262v1M358.5 262v1M359.5 262v1M360.5 263v1M361.5 263v1M362.5 264v1M363.5 264v1M364.5 264v1M365.5 265v1M366.5 265v1M367.5 264v1M368.5 262v2M369.5 261v1M370.5 260v1M371.5 259v1M372.5 257v2M373.5 256v1M374.5 256v1M375.5 256v1M376.5 256v1M377.5 256v1M378.5 257v1M379.5 257v1M380.5 257v1M381.5 257v1M382.5 258v1M383.5 257v1M384.5 257v1M385.5 256v1M386.5 256v1M387.5 256v1M388.5 255v1M389.5 255v1M390.5 255v1M391.5 254v1M392.5 253v1M393.5 252v1M394.5 251v1M395.5 250v1M396.5 249v1M397.5 248v1M398.5 247v1M399.5 247v1M400.5 247v1M401.5 246v1M402.5 246v1M403.5 246v1M404.5 246v1M405.5 245v1M406.5 245v1M407.5 245v1M408.5 245v1M409.5 244v1M410.5 244v1M411.5 244v1M412.5 244v1M413.5 244v1M414.5 244v1M415.5 244v1M416.5 244v1M417.5 244v1M418.5 244v1M419.5 244v1M420.5 245v1M421.5 245v1M422.5 245v1M423.5 245v1M424.5 246v1M425.5 246v1M426.5 247v1M427.5 247v1M428.5 248v1M429.5 248v1M430.5 249v1M431.5 249v1M432.5 249v1M433.5 249v1M434.5 249v1M435.5 249v1M436.5 249v1M437.5 249v1M438.5 249v1M439.5 250v1M440.5 251v2M441.5 253v2M442.5 255v1M443.5 256v2M444.5 258v2M445.5 260v2M446.5 262v1M447.5 263v2M448.5 265v2M449.5 267v2M450.5 269v2M451.5 271v2M452.5 273v2M453.5 275v2M454.5 277v1M455.5 278v2M456.5 280v2M457.5 282v2M458.5 284v2M459.5 286v2M460.5 288v2M461.5 290v2M462.5 292v1M463.5 293v1M464.5 294v1M465.5 295v1M466.5 296v2M467.5 298v1M468.5 299v1M469.5 300v1M470.5 301v1M471.5 301v1M472.5 302v1M473.5 303v1M474.5 304v2M475.5 306v1M476.5 307v1M477.5 308v1M478.5 309v1M479.5 310v1M480.5 310v1M481.5 311v1M482.5 311v1M483.5 312v1M484.5 312v1M485.5 313v1M486.5 314v1M487.5 313v1M488.5 312v1M489.5 311v1M490.5 310v1M491.5 309v1M492.5 308v1M493.5 307v1M494.5 306v1M495.5 304v2M496.5 302v2M497.5 301v1M498.5 299v2M499.5 298v1M500.5 296v2M501.5 294v2M502.5 293v1M503.5 292v1M504.5 291v1M505.5 290v1M506.5 290v1M507.5 289v1M508.5 288v1M509.5 288v1M510.5 287v1M511.5 286v1M512.5 286v1M513.5 285v1M514.5 285v1M515.5 284v1M516.5 283v1M517.5 283v1M518.5 282v1M519.5 282v1M520.5 281v1M521.5 281v1M522.5 281v1M523.5 280v1M524.5 280v1M525.5 280v1M526.5 280v1M527.5 281v1M528.5 282v2M529.5 284v1M530.5 285v1M531.5 286v1M532.5 287v2M533.5 289v1M534.5 290v1M535.5 289v1M536.5 289v1M537.5 289v1M538.5 289v1M539.5 289v1M540.5 289v1M541.5 289v1M542.5 289v1M543.5 289v1M544.5 290v1M545.5 291v1M546.5 292v1M547.5 292v1M548.5 293v1M549.5 294v1M550.5 295v2M551.5 297v2M552.5 299v2M553.5 301v3M554.5 304v2M555.5 306v3M556.5 309v2M557.5 311v2M558.5 313v2M559.5 315v2M560.5 317v1M561.5 318v2M562.5 320v1M563.5 321v2M564.5 323v1M565.5 324v2M566.5 326v1M567.5 325v1M568.5 325v1M569.5 325v1M570.5 325v1M571.5 324v1M572.5 324v1M573.5 324v1M574.5 324v1M575.5 325v2M576.5 327v1M577.5 328v1M578.5 329v2M579.5 331v1M580.5 332v1M581.5 333v2M582.5 335v1M583.5 335v1M584.5 335v1M585.5 335v1M586.5 336v1M587.5 336v1M588.5 336v1M589.5 337v1M590.5 338v1M591.5 339v2M592.5 341v3M593.5 344v2M594.5 346v3M595.5 349v2M596.5 351v3M597.5 354v2M598.5 356v2M599.5 358v3M600.5 361v3M601.5 364v3M602.5 367v2M603.5 369v3M604.5 372v3M605.5 375v3M606.5 378v2M607.5 380v1M608.5 380v1M609.5 381v1M610.5 382v1M611.5 382v1M612.5 383v1M613.5 384v1M614.5 385v1M615.5 384v1M616.5 384v1M617.5 383v1M618.5 383v1M619.5 382v1M620.5 382v1M621.5 381v1M622.5 381v1M623.5 382v2M624.5 384v1M625.5 385v2M626.5 387v1M627.5 388v2M628.5 390v1M629.5 391v2M630.5 393v1M631.5 393v1M632.5 393v1M633.5 393v1M634.5 393v1M635.5 393v1M636.5 394v1M637.5 394v1M638.5 394v1M639.5 394v1M640.5 394v1M641.5 394v1M642.5 394v1M643.5 394v1M644.5 394v1M645.5 394v1M646.5 394v1M647.5 395v1M648.5 396v1M649.5 397v1M650.5 398v1M651.5 399v1M652.5 400v1M653.5 401v1M654.5 402v1M655.5 402v1M656.5 402v1M657.5 402v1M658.5 402v1M659.5 402v1M660.5 402v1M661.5 402v1M662.5 402v1M663.5 403v2M664.5 405v2M665.5 407v2M666.5 409v2M667.5 411v2M668.5 413v2M669.5 415v2M670.5 417v1M671.5 418v1M672.5 419v2M673.5 421v1M674.5 422v1M675.5 423v1M676.5 424v2M677.5 426v1M678.5 427v1M679.5 427v1M680.5 428v1M681.5 428v1M682.5 429v1M683.5 429v1M684.5 430v1M685.5 430v1M686.5 431v1M687.5 431v1M688.5 432v1M689.5 432v1M690.5 433v1M691.5 433v1M692.5 434v1M693.5 434v1M694.5 435v1M695.5 436v1M696.5 437v1M697.5 438v1M698.5 439v1M699.5 440v1M700.5 441v1M701.5 442v1M702.5 443v1M703.5 441v2M704.5 439v2M705.5 437v2M706.5 435v2M707.5 433v2M708.5 431v2M709.5 429v2M710.5 426v3M711.5 424v2M712.5 422v2M713.5 420v2M714.5 417v3M715.5 415v2M716.5 413v2M717.5 411v2M718.5 409v2M719.5 405v4M720.5 401v4M721.5 397v4M722.5 393v4M723.5 389v4M724.5 385v4M725.5 381v4M726.5 377v4M727.5 374v3M728.5 371v3M729.5 368v3M730.5 365v3M731.5 362v3M732.5 359v3M733.5 356v3M734.5 353v3M735.5 351v2M736.5 349v2M737.5 347v2M738.5 345v2M739.5 343v2M740.5 341v2M741.5 339v2M742.5 336v3M743.5 333v3M744.5 330v3M745.5 327v3M746.5 325v2M747.5 322v3M748.5 319v3M749.5 316v3M750.5 314v2M751.5 311v3M752.5 308v3M753.5 305v3M754.5 301v4M755.5 298v3M756.5 295v3M757.5 292v3M758.5 290v2M759.5 288v2M760.5 286v2M761.5 285v1M762.5 283v2M763.5 282v1M764.5 280v2M765.5 278v2M766.5 277v1M767.5 275v2M768.5 274v1M769.5 273v1M770.5 271v2M771.5 270v1M772.5 269v1M773.5 268v1M774.5 267v1M775.5 267v1M776.5 267v1M777.5 267v1M778.5 267v1M779.5 267v1M780.5 267v1M781.5 267v1M782.5 267v1M783.5 268v1M784.5 268v1M785.5 269v1M786.5 270v1M787.5 270v1M788.5 271v1M789.5 271v1M790.5 272v1M791.5 273v1M792.5 274v1M793.5 274v1M794.5 275v1M795.5 276v1M796.5 277v1M797.5 278v1M798.5 279v1M799.5 279v1M800.5 280v1M801.5 281v1M802.5 281v1M803.5 282v1M804.5 283v1M805.5 283v1M806.5 284v1M807.5 285v1M808.5 285v1M809.5 286v1M810.5 287v1M811.5 287v1M812.5 288v1M813.5 289v1M814.5 290v1M815.5 290v1M816.5 290v1M817.5 290v1M818.5 290v1M819.5 290v1M820.5 290v1M821.5 290v1M822.5 291v1M823.5 291v1M824.5 291v1M825.5 291v1M826.5 291v1M827.5 291v1M828.5 291v1M829.5 291v1M830.5 291v1M831.5 290v1M832.5 290v1M833.5 289v1M834.5 289v1M835.5 288v1M836.5 288v1M837.5 287v1M838.5 287v1M839.5 286v1M840.5 284v2M841.5 283v1M842.5 282v1M843.5 281v1M844.5 279v2M845.5 278v1M846.5 277v1M847.5 275v2M848.5 273v2M849.5 271v2M850.5 269v2M851.5 267v2M852.5 265v2M853.5 263v2M854.5 262v1M855.5 260v2M856.5 258v2M857.5 256v2M858.5 255v1M859.5 253v2M860.5 251v2M861.5 250v1M862.5 249v1M863.5 247v2M864.5 245v2M865.5 243v2M866.5 242v1M867.5 240v2M868.5 238v2M869.5 236v2M870.5 235v1M871.5 233v2M872.5 232v1M873.5 231v1M874.5 229v2M875.5 228v1M876.5 227v1M877.5 225v2M878.5 224v1M879.5 223v1M880.5 222v1M881.5 221v1M882.5 221v1M883.5 220v1M884.5 219v1M885.5 218v1M886.5 217v1M887.5 215v2M888.5 213v2M889.5 211v2M890.5 209v2M891.5 207v2M892.5 205v2M893.5 203v2M894.5 202v1M895.5 200v2M896.5 198v2M897.5 196v2M898.5 194v2M899.5 192v2M900.5 190v2M901.5 188v2M902.5 186v2M903.5 184v2M904.5 182v2M905.5 180v2M906.5 179v1M907.5 177v2M908.5 175v2M909.5 173v2M910.5 172v1M911.5 171v1M912.5 171v1M913.5 170v1M914.5 170v1M915.5 169v1M916.5 169v1M917.5 168v1M918.5 168v1M919.5 167v1M920.5 167v1M921.5 166v1M922.5 166v1M923.5 165v1M924.5 165v1M925.5 164v1M926.5 164v1M927.5 163v1M928.5 162v1M929.5 161v1M930.5 160v1M931.5 159v1M932.5 158v1M933.5 157v1M934.5 156v1M935.5 155v1M936.5 154v1M937.5 153v1M938.5 151v2M939.5 150v1M940.5 149v1M941.5 148v1M942.5 147v1M943.5 148v1M944.5 148v1M945.5 149v1M946.5 150v1M947.5 150v1M948.5 151v1M949.5 151v1M950.5 152v1M951.5 153v2M952.5 155v1M953.5 156v2M954.5 158v1M955.5 159v2M956.5 161v1M957.5 162v2M958.5 164v1M959.5 165v2M960.5 167v1M961.5 168v1M962.5 169v2M963.5 171v1M964.5 172v1M965.5 173v2M966.5 175v1M967.5 176v1M968.5 177v1M969.5 178v1M970.5 179v2M971.5 181v1M972.5 182v1M973.5 183v1M974.5 184v1M975.5 184v1M976.5 185v1M977.5 186v1M978.5 187v2M979.5 189v1M980.5 190v1M981.5 191v1M982.5 192v1M983.5 193v1M984.5 194v1M985.5 195v1M986.5 196v2M987.5 198v1M988.5 199v1M989.5 200v1M990.5 201v1M991.5 202v1M992.5 203v1M993.5 204v1M994.5 205v1M995.5 206v1M996.5 207v1M997.5 208v1M998.5 209v1M999.5 209v1M1000.5 209v1M1001.5 209v1M1002.5 210v1M1003.5 210v1M1004.5 210v1M1005.5 210v1M1006.5 211v1M1007.5 211v1M1008.5 212v1M1009.5 212v1M1010.5 213v1M1011.5 213v1M1012.5 214v1M1013.5 214v1M1014.5 215v1M1015.5 215v1M1016.5 216v1M1017.5 216v1M1018.5 217v1M1019.5 217v1M1020.5 218v1M1021.5 218v1M1022.5 219v1M1023.5 219v1M1024.5 219v1M1025.5 219v1M1026.5 219v1M1027.5 219v1M1028.5 220v1M1029.5 220v1M1030.5 220v1M1031.5 220v1M1032.5 221v1M1033.5 221v1M1034.5 221v1M1035.5 221v1M1036.5 222v1M1037.5 222v1M1038.5 222v1M1039.5 221v1M1040.5 220v1M1041.5 219v1M1042.5 218v1M1043.5 217v1M1044.5 216v1M1045.5 215v1M1046.5 215v1M1047.5 214v1M1048.5 213v1M1049.5 212v1M1050.5 211v1M1051.5 210v1M1052.5 209v1M1053.5 208v1M1054.5 208v1M1055.5 206v2M1056.5 204v2M1057.5 202v2M1058.5 201v1M1059.5 199v2M1060.5 197v2M1061.5 195v2M1062.5 193v2M1063.5 191v2M1064.5 189v2M1065.5 186v3M1066.5 184v2M1067.5 181v3M1068.5 179v2M1069.5 177v2M1070.5 174v3M1071.5 172v2M1072.5 169v3M1073.5 166v3M1074.5 164v2M1075.5 161v3M1076.5 158v3M1077.5 156v2M1078.5 153v3M1079.5 151v2M1080.5 149v2M1081.5 147v2M1082.5 144v3M1083.5 142v2M1084.5 140v2M1085.5 138v2M1086.5 136v2M1087.5 134v2M1088.5 132v2M1089.5 130v2M1090.5 129v1M1091.5 127v2M1092.5 125v2M1093.5 123v2M1094.5 122v1M1095.5 122v1M1096.5 122v1M1097.5 122v1M1098.5 122v1M1099.5 122v1M1100.5 122v1M1101.5 122v1M1102.5 123v1M1103.5 123v1M1104.5 123v1M1105.5 123v1M1106.5 124v1M1107.5 124v1M1108.5 124v1M1109.5 124v1M1110.5 125v1M1111.5 126v2M1112.5 128v2M1113.5 130v2M1114.5 132v1M1115.5 133v2M1116.5 135v2M1117.5 137v2M1118.5 139v1M1119.5 140v1M1120.5 141v1M1121.5 142v1M1122.5 143v2M1123.5 145v1M1124.5 146v1M1125.5 147v1M1126.5 148v1M1127.5 149v2M1128.5 151v1M1129.5 152v2M1130.5 154v1M1131.5 155v2M1132.5 157v1M1133.5 158v2M1134.5 160v1M1135.5 161v2M1136.5 163v2M1137.5 165v2M1138.5 167v3M1139.5 170v2M1140.5 172v2M1141.5 174v2M1142.5 176v3M1143.5 179v4M1144.5 183v3M1145.5 186v4M1146.5 190v3M1147.5 193v4M1148.5 197v3M1149.5 200v4M1150.5 204v2M1151.5 206v3M1152.5 209v3M1153.5 212v3M1154.5 215v3M1155.5 218v3M1156.5 221v3M1157.5 224v3M1158.5 227v3M1159.5 230v2M1160.5 232v2M1161.5 234v2M1162.5 236v3M1163.5 239v2M1164.5 241v2M1165.5 243v2M1166.5 245v2M1167.5 247v2M1168.5 249v2M1169.5 251v2M1170.5 253v1M1171.5 254v2M1172.5 256v2M1173.5 258v2M1174.5 260v1M1175.5 261v1M1176.5 262v2M1177.5 264v2M1178.5 266v2M1179.5 268v2M1180.5 270v2M1181.5 272v2M1182.5 274v1M1183.5 275v2M1184.5 277v2M1185.5 279v1M1186.5 280v2M1187.5 282v1M1188.5 283v2M1189.5 285v2M1190.5 287v1M1191.5 288v1M1192.5 289v1M1193.5 290v1M1194.5 291v2M1195.5 293v1M1196.5 294v1M1197.5 295v1M1198.5 296v1M1199.5 295v1M1200.5 294v1M1201.5 293v1M1202.5 292v1M1203.5 291v1M1204.5 290v1M1205.5 289v1M1206.5 289v1M1207.5 288v1M1208.5 287v1M1209.5 286v1M1210.5 285v1M1211.5 284v1M1212.5 283v1M1213.5 282v1M1214.5 282v1M1215.5 281v1M1216.5 281v1M1217.5 281v1M1218.5 281v1M1219.5 280v1M1220.5 280v1M1221.5 280v1M1222.5 280v1M1223.5 279v1M1224.5 277v2M1225.5 276v1M1226.5 275v1M1227.5 274v1M1228.5 272v2M1229.5 271v1M1230.5 270v1M1231.5 269v1M1232.5 268v1M1233.5 267v1M1234.5 265v2M1235.5 264v1M1236.5 263v1M1237.5 262v1M1238.5 261v1M1239.5 260v1M1240.5 259v1M1241.5 258v1M1242.5 258v1M1243.5 257v1M1244.5 256v1M1245.5 256v1M1246.5 255v1M1247.5 254v1M1248.5 253v1M1249.5 252v1M1250.5 250v2M1251.5 249v1M1252.5 248v1M1253.5 247v1M1254.5 246v1M1255.5 245v1M1256.5 244v1M1257.5 243v1M1258.5 241v2M1259.5 240v1M1260.5 239v1M1261.5 238v1M1262.5 237v1M1263.5 236v1M1264.5 235v1M1265.5 234v1M1266.5 233v1M1267.5 232v1M1268.5 231v1M1269.5 230v1M1270.5 230v1M1271.5 229v1M1272.5 228v1M1273.5 227v1M1274.5 226v1M1275.5 225v1M1276.5 224v1M1277.5 223v1M1278.5 223v1M1279.5 223v1M1280.5 223v1M1281.5 223v1M1282.5 223v1M1283.5 223v1M1284.5 223v1M1285.5 223v1M1286.5 223v1M1287.5 222v1M1288.5 221v1M1289.5 220v1M1290.5 219v1M1291.5 218v1M1292.5 217v1M1293.5 216v1M1294.5 216v1M1295.5 215v1M1296.5 214v1M1297.5 213v1M1298.5 212v1M1299.5 211v1M1300.5 210v1M1301.5 209v1M1302.5 208v1" fill="none" stroke="#0000cd" stroke-width="1" shape-rendering="crispEdges"/>
<g shape-rendering="crispEdges">
<rect x="975" y="157" width="405" height="4" fill="#f73434"/>
<rect x="970" y="225" width="408" height="4" fill="#99cc00"/>
<rect x="955" y="321" width="426" height="3" fill="#3388dd"/>
</g>
<g shape-rendering="crispEdges">
<rect x="6" y="599" width="1" height="36" fill="#c0c0c0"/>
<rect x="14" y="592" width="1" height="43" fill="#c0c0c0"/>
<rect x="22" y="587" width="1" height="48" fill="#c0c0c0"/>
<rect x="30" y="584" width="1" height="51" fill="#c0c0c0"/>
<rect x="38" y="583" width="1" height="52" fill="#c0c0c0"/>
<rect x="46" y="584" width="1" height="51" fill="#c0c0c0"/>
<rect x="54" y="584" width="1" height="51" fill="#c0c0c0"/>
<rect x="62" y="586" width="1" height="49" fill="#c0c0c0"/>
<rect x="70" y="587" width="1" height="48" fill="#c0c0c0"/>
<rect x="78" y="589" width="1" height="46" fill="#c0c0c0"/>
<rect x="86" y="590" width="1" height="45" fill="#c0c0c0"/>
<rect x="94" y="588" width="1" height="47" fill="#c0c0c0"/>
<rect x="102" y="586" width="1" height="49" fill="#c0c0c0"/>
<rect x="110" y="585" width="1" height="50" fill="#c0c0c0"/>
<rect x="118" y="584" width="1" height="51" fill="#c0c0c0"/>
<rect x="126" y="584" width="1" height="51" fill="#c0c0c0"/>
<rect x="134" y="585" width="1" height="50" fill="#c0c0c0"/>
<rect x="142" y="585" width="1" height="50" fill="#c0c0c0"/>
<rect x="150" y="586" width="1" height="49" fill="#c0c0c0"/>
<rect x="158" y="587" width="1" height="48" fill="#c0c0c0"/>
<rect x="166" y="589" width="1" height="46" fill="#c0c0c0"/>
<rect x="174" y="587" width="1" height="48" fill="#c0c0c0"/>
<rect x="182" y="584" width="1" height="51" fill="#c0c0c0"/>
<rect x="190" y="579" width="1" height="56" fill="#c0c0c0"/>
<rect x="198" y="581" width="1" height="54" fill="#c0c0c0"/>
<rect x="206" y="581" width="1" height="54" fill="#c0c0c0"/>
<rect x="214" y="582" width="1" height="53" fill="#c0c0c0"/>
<rect x="222" y="584" width="1" height="51" fill="#c0c0c0"/>
<rect x="230" y="588" width="1" height="47" fill="#c0c0c0"/>
<rect x="238" y="591" width="1" height="44" fill="#c0c0c0"/>
<rect x="246" y="591" width="1" height="44" fill="#c0c0c0"/>
<rect x="254" y="591" width="1" height="44" fill="#c0c0c0"/>
<rect x="262" y="592" width="1" height="43" fill="#c0c0c0"/>
<rect x="270" y="590" width="1" height="45" fill="#c0c0c0"/>
<rect x="278" y="592" width="1" height="43" fill="#c0c0c0"/>
<rect x="286" y="594" width="1" height="41" fill="#c0c0c0"/>
<rect x="294" y="595" width="1" height="40" fill="#c0c0c0"/>
<rect x="302" y="602" width="1" height="33" fill="#c0c0c0"/>
<rect x="310" y="608" width="1" height="27" fill="#c0c0c0"/>
<rect x="318" y="618" width="1" height="17" fill="#c0c0c0"/>
<rect x="326" y="625" width="1" height="10" fill="#c0c0c0"/>
<rect x="334" y="631" width="1" height="4" fill="#c0c0c0"/>
<rect x="342" y="634" width="1" height="1" fill="#c0c0c0"/>
<rect x="350" y="633" width="1" height="2" fill="#c0c0c0"/>
<rect x="358" y="633" width="1" height="2" fill="#c0c0c0"/>
<rect x="366" y="633" width="1" height="2" fill="#c0c0c0"/>
<rect x="374" y="634" width="1" height="1" fill="#c0c0c0"/>
<rect x="382" y="634" width="1" height="6" fill="#c0c0c0"/>
<rect x="390" y="634" width="1" height="7" fill="#c0c0c0"/>
<rect x="398" y="634" width="1" height="4" fill="#c0c0c0"/>
<rect x="406" y="634" width="1" height="3" fill="#c0c0c0"/>
<rect x="414" y="634" width="1" height="3" fill="#c0c0c0"/>
<rect x="422" y="634" width="1" height="4" fill="#c0c0c0"/>
<rect x="430" y="634" width="1" height="4" fill="#c0c0c0"/>
<rect x="438" y="634" width="1" height="6" fill="#c0c0c0"/>
<rect x="446" y="634" width="1" height="13" fill="#c0c0c0"/>
<rect x="454" y="634" width="1" height="16" fill="#c0c0c0"/>
<rect x="462" y="634" width="1" height="19" fill="#c0c0c0"/>
<rect x="470" y="634" width="1" height="19" fill="#c0c0c0"/>
<rect x="478" y="634" width="1" height="18" fill="#c0c0c0"/>
<rect x="486" y="634" width="1" height="17" fill="#c0c0c0"/>
<rect x="494" y="634" width="1" height="12" fill="#c0c0c0"/>
<rect x="502" y="634" width="1" height="9" fill="#c0c0c0"/>
<rect x="510" y="634" width="1" height="10" fill="#c0c0c0"/>
<rect x="518" y="634" width="1" height="10" fill="#c0c0c0"/>
<rect x="526" y="634" width="1" height="10" fill="#c0c0c0"/>
<rect x="534" y="634" width="1" height="14" fill="#c0c0c0"/>
<rect x="542" y="634" width="1" height="12" fill="#c0c0c0"/>
<rect x="550" y="634" width="1" height="11" fill="#c0c0c0"/>
<rect x="558" y="634" width="1" height="16" fill="#c0c0c0"/>
<rect x="566" y="634" width="1" height="20" fill="#c0c0c0"/>
<rect x="574" y="634" width="1" height="15" fill="#c0c0c0"/>
<rect x="582" y="634" width="1" height="18" fill="#c0c0c0"/>
<rect x="590" y="634" width="1" height="21" fill="#c0c0c0"/>
<rect x="598" y="634" width="1" height="25" fill="#c0c0c0"/>
<rect x="606" y="634" width="1" height="29" fill="#c0c0c0"/>
<rect x="614" y="634" width="1" height="32" fill="#c0c0c0"/>
<rect x="622" y="634" width="1" height="28" fill="#c0c0c0"/>
<rect x="630" y="634" width="1" height="26" fill="#c0c0c0"/>
<rect x="638" y="634" width="1" height="25" fill="#c0c0c0"/>
<rect x="646" y="634" width="1" height="24" fill="#c0c0c0"/>
<rect x="654" y="634" width="1" height="28" fill="#c0c0c0"/>
<rect x="662" y="634" width="1" height="30" fill="#c0c0c0"/>
<rect x="670" y="634" width="1" height="37" fill="#c0c0c0"/>
<rect x="678" y="634" width="1" height="34" fill="#c0c0c0"/>
<rect x="686" y="634" width="1" height="30" fill="#c0c0c0"/>
<rect x="694" y="634" width="1" height="28" fill="#c0c0c0"/>
<rect x="702" y="634" width="1" height="28" fill="#c0c0c0"/>
<rect x="710" y="634" width="1" height="22" fill="#c0c0c0"/>
<rect x="718" y="634" width="1" height="16" fill="#c0c0c0"/>
<rect x="726" y="634" width="1" height="7" fill="#c0c0c0"/>
<rect x="734" y="634" width="1" height="2" fill="#c0c0c0"/>
<rect x="742" y="629" width="1" height="6" fill="#c0c0c0"/>
<rect x="750" y="622" width="1" height="13" fill="#c0c0c0"/>
<rect x="758" y="618" width="1" height="17" fill="#c0c0c0"/>
<rect x="766" y="616" width="1" height="19" fill="#c0c0c0"/>
<rect x="774" y="615" width="1" height="20" fill="#c0c0c0"/>
<rect x="782" y="616" width="1" height="19" fill="#c0c0c0"/>
<rect x="790" y="617" width="1" height="18" fill="#c0c0c0"/>
<rect x="798" y="618" width="1" height="17" fill="#c0c0c0"/>
<rect x="806" y="619" width="1" height="16" fill="#c0c0c0"/>
<rect x="814" y="619" width="1" height="16" fill="#c0c0c0"/>
<rect x="822" y="619" width="1" height="16" fill="#c0c0c0"/>
<rect x="830" y="618" width="1" height="17" fill="#c0c0c0"/>
<rect x="838" y="617" width="1" height="18" fill="#c0c0c0"/>
<rect x="846" y="616" width="1" height="19" fill="#c0c0c0"/>
<rect x="854" y="613" width="1" height="22" fill="#c0c0c0"/>
<rect x="862" y="609" width="1" height="26" fill="#c0c0c0"/>
<rect x="870" y="606" width="1" height="29" fill="#c0c0c0"/>
<rect x="878" y="606" width="1" height="29" fill="#c0c0c0"/>
<rect x="886" y="607" width="1" height="28" fill="#c0c0c0"/>
<rect x="894" y="604" width="1" height="31" fill="#c0c0c0"/>
<rect x="902" y="601" width="1" height="34" fill="#c0c0c0"/>
<rect x="910" y="596" width="1" height="39" fill="#c0c0c0"/>
<rect x="918" y="596" width="1" height="39" fill="#c0c0c0"/>
<rect x="926" y="597" width="1" height="38" fill="#c0c0c0"/>
<rect x="934" y="598" width="1" height="37" fill="#c0c0c0"/>
<rect x="942" y="599" width="1" height="36" fill="#c0c0c0"/>
<rect x="950" y="603" width="1" height="32" fill="#c0c0c0"/>
<rect x="958" y="607" width="1" height="28" fill="#c0c0c0"/>
<rect x="966" y="610" width="1" height="25" fill="#c0c0c0"/>
<rect x="974" y="614" width="1" height="21" fill="#c0c0c0"/>
<rect x="982" y="617" width="1" height="18" fill="#c0c0c0"/>
<rect x="990" y="619" width="1" height="16" fill="#c0c0c0"/>
<rect x="998" y="622" width="1" height="13" fill="#c0c0c0"/>
<rect x="1006" y="623" width="1" height="12" fill="#c0c0c0"/>
<rect x="1014" y="627" width="1" height="8" fill="#c0c0c0"/>
<rect x="1022" y="628" width="1" height="7" fill="#c0c0c0"/>
<rect x="1030" y="630" width="1" height="5" fill="#c0c0c0"/>
<rect x="1038" y="631" width="1" height="4" fill="#c0c0c0"/>
<rect x="1046" y="628" width="1" height="7" fill="#c0c0c0"/>
<rect x="1054" y="625" width="1" height="10" fill="#c0c0c0"/>
<rect x="1062" y="618" width="1" height="17" fill="#c0c0c0"/>
<rect x="1070" y="616" width="1" height="19" fill="#c0c0c0"/>
<rect x="1078" y="614" width="1" height="21" fill="#c0c0c0"/>
<rect x="1086" y="610" width="1" height="25" fill="#c0c0c0"/>
<rect x="1094" y="610" width="1" height="25" fill="#c0c0c0"/>
<rect x="1102" y="614" width="1" height="21" fill="#c0c0c0"/>
<rect x="1110" y="616" width="1" height="19" fill="#c0c0c0"/>
<rect x="1118" y="620" width="1" height="15" fill="#c0c0c0"/>
<rect x="1126" y="622" width="1" height="13" fill="#c0c0c0"/>
<rect x="1134" y="626" width="1" height="9" fill="#c0c0c0"/>
<rect x="1142" y="630" width="1" height="5" fill="#c0c0c0"/>
<rect x="1150" y="634" width="1" height="5" fill="#c0c0c0"/>
<rect x="1158" y="634" width="1" height="12" fill="#c0c0c0"/>
<rect x="1166" y="634" width="1" height="15" fill="#c0c0c0"/>
<rect x="1174" y="634" width="1" height="18" fill="#c0c0c0"/>
<rect x="1182" y="634" width="1" height="21" fill="#c0c0c0"/>
<rect x="1190" y="634" width="1" height="22" fill="#c0c0c0"/>
<rect x="1198" y="634" width="1" height="22" fill="#c0c0c0"/>
<rect x="1206" y="634" width="1" height="21" fill="#c0c0c0"/>
<rect x="1214" y="634" width="1" height="20" fill="#c0c0c0"/>
<rect x="1222" y="634" width="1" height="18" fill="#c0c0c0"/>
<rect x="1230" y="634" width="1" height="15" fill="#c0c0c0"/>
<rect x="1238" y="634" width="1" height="13" fill="#c0c0c0"/>
<rect x="1246" y="634" width="1" height="10" fill="#c0c0c0"/>
<rect x="1254" y="634" width="1" height="7" fill="#c0c0c0"/>
<rect x="1262" y="634" width="1" height="5" fill="#c0c0c0"/>
<rect x="1270" y="634" width="1" height="3" fill="#c0c0c0"/>
<rect x="1278" y="634" width="1" height="2" fill="#c0c0c0"/>
<rect x="1286" y="634" width="1" height="1" fill="#c0c0c0"/>
<rect x="1294" y="634" width="1" height="1" fill="#c0c0c0"/>
<rect x="1302" y="630" width="1" height="5" fill="#c0c0c0"/>
</g>
<path d="M6.5 641v2M7.5 640v1M9.5 636v1M10.5 635v1M11.5 634v1M14.5 630v1M15.5 629v1M16.5 628v1M19.5 624v1M20.5 622v2M24.5 618v1M25.5 617v1M26.5 616v1M29.5 612v1M30.5 611v1M31.5 610v1M35.5 606v1M36.5 605v1M37.5 604v1M41.5 601v1M42.5 601v1M43.5 600v1M47.5 597v1M48.5 596v1M49.5 596v1M53.5 593v1M54.5 593v1M55.5 592v1M59.5 590v1M60.5 590v1M61.5 589v1M65.5 587v1M66.5 587v1M67.5 587v1M71.5 585v1M72.5 585v1M73.5 585v1M77.5 585v1M78.5 585v1M79.5 585v1M83.5 585v1M84.5 585v1M85.5 585v1M89.5 585v1M90.5 585v1M91.5 585v1M95.5 585v1M96.5 585v1M97.5 585v1M101.5 585v1M102.5 585v1M103.5 585v1M107.5 585v1M108.5 585v1M109.5 585v1M113.5 585v1M114.5 585v1M115.5 585v1M119.5 585v1M120.5 585v1M121.5 585v1M125.5 585v1M126.5 585v1M127.5 585v1M131.5 586v1M132.5 586v1M133.5 586v1M137.5 586v1M138.5 586v1M139.5 586v1M143.5 586v1M144.5 586v1M145.5 586v1M149.5 585v1M150.5 585v1M151.5 585v1M155.5 585v1M156.5 585v1M157.5 585v1M161.5 585v1M162.5 585v1M163.5 585v1M167.5 585v1M168.5 585v1M169.5 585v1M173.5 585v1M174.5 585v1M175.5 585v1M179.5 585v1M180.5 585v1M181.5 585v1M185.5 584v1M186.5 584v1M187.5 584v1M191.5 584v1M192.5 584v1M193.5 584v1M197.5 584v1M198.5 584v1M199.5 584v1M203.5 584v1M204.5 584v1M205.5 584v1M209.5 583v1M210.5 583v1M211.5 583v1M215.5 583v1M216.5 583v1M217.5 583v1M221.5 583v1M222.5 583v1M223.5 583v1M227.5 583v1M228.5 583v1M229.5 583v1M233.5 583v1M234.5 583v1M235.5 583v1M239.5 583v1M240.5 583v1M241.5 583v1M245.5 584v1M246.5 584v1M247.5 584v1M251.5 585v1M252.5 585v1M253.5 585v1M257.5 585v1M258.5 586v1M259.5 586v1M263.5 586v1M264.5 586v1M265.5 586v1M269.5 587v1M270.5 587v1M271.5 587v1M275.5 588v1M276.5 588v1M277.5 588v1M281.5 589v1M282.5 589v1M283.5 589v1M287.5 590v1M288.5 590v1M289.5 590v1M293.5 591v1M294.5 591v1M295.5 591v1M299.5 592v1M300.5 592v1M301.5 592v1M305.5 593v1M306.5 593v1M307.5 593v1M311.5 594v1M312.5 595v1M313.5 595v1M317.5 597v1M318.5 598v1M319.5 598v1M323.5 599v1M324.5 600v1M325.5 600v1M329.5 602v1M330.5 603v1M331.5 603v1M335.5 605v1M336.5 606v1M337.5 606v1M341.5 609v1M342.5 610v1M343.5 610v1M347.5 613v1M348.5 614v1M349.5 614v1M353.5 617v1M354.5 617v1M355.5 618v1M359.5 620v1M360.5 621v1M361.5 621v1M365.5 624v1M366.5 625v1M367.5 625v1M371.5 627v1M372.5 628v1M373.5 628v1M377.5 630v1M378.5 630v1M379.5 631v1M383.5 632v1M384.5 633v1M385.5 633v1M389.5 635v1M390.5 635v1M391.5 635v1M395.5 636v1M396.5 637v1M397.5 637v1M401.5 637v1M402.5 637v1M403.5 637v1M407.5 637v1M408.5 637v1M409.5 637v1M413.5 637v1M414.5 638v1M415.5 638v1M419.5 638v1M420.5 638v1M421.5 638v1M425.5 638v1M426.5 638v1M427.5 638v1M431.5 638v1M432.5 638v1M433.5 638v1M437.5 639v1M438.5 639v1M439.5 639v1M443.5 640v1M444.5 640v1M445.5 640v1M449.5 641v1M450.5 641v1M451.5 641v1M455.5 642v1M456.5 642v1M457.5 642v1M461.5 643v1M462.5 643v1M463.5 643v1M467.5 644v1M468.5 644v1M469.5 644v1M473.5 645v1M474.5 645v1M475.5 645v1M479.5 646v1M480.5 646v1M481.5 646v1M485.5 647v1M486.5 647v1M487.5 647v1M491.5 648v1M492.5 648v1M493.5 648v1M497.5 648v1M498.5 649v1M499.5 649v1M503.5 649v1M504.5 649v1M505.5 649v1M509.5 649v1M510.5 649v1M511.5 649v1M515.5 649v1M516.5 649v1M517.5 649v1M521.5 649v1M522.5 649v1M523.5 648v1M527.5 648v1M528.5 648v1M529.5 648v1M533.5 647v1M534.5 647v1M535.5 647v1M539.5 647v1M540.5 646v1M541.5 646v1M545.5 646v1M546.5 646v1M547.5 646v1M551.5 646v1M552.5 646v1M553.5 646v1M557.5 646v1M558.5 646v1M559.5 646v1M563.5 647v1M564.5 647v1M565.5 647v1M569.5 647v1M570.5 647v1M571.5 647v1M575.5 647v1M576.5 647v1M577.5 647v1M581.5 648v1M582.5 649v1M583.5 649v1M587.5 650v1M588.5 650v1M589.5 650v1M593.5 651v1M594.5 651v1M595.5 651v1M599.5 651v1M600.5 651v1M601.5 652v1M605.5 652v1M606.5 652v1M607.5 652v1M611.5 654v1M612.5 655v1M613.5 655v1M617.5 656v1M618.5 656v1M619.5 656v1M623.5 657v1M624.5 657v1M625.5 657v1M629.5 657v1M630.5 658v1M631.5 658v1M635.5 658v1M636.5 658v1M637.5 658v1M641.5 658v1M642.5 658v1M643.5 658v1M647.5 659v1M648.5 659v1M649.5 659v1M653.5 660v1M654.5 660v1M655.5 660v1M659.5 660v1M660.5 660v1M661.5 660v1M665.5 661v1M666.5 662v1M667.5 662v1M671.5 663v1M672.5 663v1M673.5 663v1M677.5 663v1M678.5 663v1M679.5 663v1M683.5 663v1M684.5 663v1M685.5 663v1M689.5 663v1M690.5 663v1M691.5 663v1M695.5 663v1M696.5 663v1M697.5 663v1M701.5 663v1M702.5 663v1M703.5 663v1M707.5 663v1M708.5 663v1M709.5 663v1M713.5 662v1M714.5 662v1M715.5 662v1M719.5 661v1M720.5 661v1M721.5 661v1M725.5 660v1M726.5 660v1M727.5 659v1M731.5 657v1M732.5 657v1M733.5 656v1M737.5 654v1M738.5 654v1M739.5 653v1M743.5 651v1M744.5 650v1M745.5 650v1M749.5 646v1M750.5 646v1M751.5 645v1M755.5 642v1M756.5 642v1M757.5 641v1M761.5 639v1M762.5 638v1M763.5 637v1M767.5 635v1M768.5 635v1M769.5 634v1M773.5 632v1M774.5 632v1M775.5 631v1M779.5 628v1M780.5 627v1M781.5 626v1M785.5 624v1M786.5 624v1M787.5 623v1M791.5 621v1M792.5 621v1M793.5 621v1M797.5 621v1M798.5 621v1M799.5 620v1M803.5 619v1M804.5 619v1M805.5 618v1M809.5 618v1M810.5 618v1M811.5 617v1M815.5 617v1M816.5 617v1M817.5 616v1M821.5 616v1M822.5 616v1M823.5 616v1M827.5 616v1M828.5 616v1M829.5 616v1M833.5 617v1M834.5 617v1M835.5 617v1M839.5 617v1M840.5 617v1M841.5 617v1M845.5 617v1M846.5 617v1M847.5 617v1M851.5 617v1M852.5 617v1M853.5 617v1M857.5 616v1M858.5 616v1M859.5 616v1M863.5 615v1M864.5 615v1M865.5 615v1M869.5 614v1M870.5 614v1M871.5 614v1M875.5 614v1M876.5 614v1M877.5 614v1M881.5 612v1M882.5 612v1M883.5 612v1M887.5 610v1M888.5 610v1M889.5 610v1M893.5 609v1M894.5 609v1M895.5 609v1M899.5 608v1M900.5 608v1M901.5 608v1M905.5 606v1M906.5 606v1M907.5 606v1M911.5 604v1M912.5 604v1M913.5 604v1M917.5 603v1M918.5 603v1M919.5 602v1M923.5 601v1M924.5 601v1M925.5 601v1M929.5 600v1M930.5 600v1M931.5 600v1M935.5 600v1M936.5 600v1M937.5 600v1M941.5 599v1M942.5 599v1M943.5 599v1M947.5 599v1M948.5 599v1M949.5 599v1M953.5 599v1M954.5 599v1M955.5 599v1M959.5 599v1M960.5 599v1M961.5 599v1M965.5 599v1M966.5 600v1M967.5 600v1M971.5 600v1M972.5 600v1M973.5 600v1M977.5 602v1M978.5 602v1M979.5 603v1M983.5 604v1M984.5 604v1M985.5 605v1M989.5 605v1M990.5 606v1M991.5 606v1M995.5 607v1M996.5 608v1M997.5 608v1M1001.5 610v1M1002.5 610v1M1003.5 610v1M1007.5 612v1M1008.5 612v1M1009.5 613v1M1013.5 615v1M1014.5 615v1M1015.5 615v1M1019.5 617v1M1020.5 617v1M1021.5 617v1M1025.5 618v1M1026.5 619v1M1027.5 619v1M1031.5 620v1M1032.5 620v1M1033.5 621v1M1037.5 621v1M1038.5 622v1M1039.5 622v1M1043.5 623v1M1044.5 623v1M1045.5 624v1M1049.5 624v1M1050.5 625v1M1051.5 625v1M1055.5 625v1M1056.5 625v1M1057.5 625v1M1061.5 625v1M1062.5 625v1M1063.5 625v1M1067.5 624v1M1068.5 624v1M1069.5 624v1M1073.5 623v1M1074.5 623v1M1075.5 623v1M1079.5 622v1M1080.5 622v1M1081.5 622v1M1085.5 622v1M1086.5 622v1M1087.5 621v1M1091.5 620v1M1092.5 620v1M1093.5 619v1M1097.5 618v1M1098.5 618v1M1099.5 617v1M1103.5 616v1M1104.5 616v1M1105.5 616v1M1109.5 616v1M1110.5 616v1M1111.5 615v1M1115.5 615v1M1116.5 615v1M1117.5 615v1M1121.5 615v1M1122.5 615v1M1123.5 615v1M1127.5 615v1M1128.5 615v1M1129.5 615v1M1133.5 615v1M1134.5 615v1M1135.5 615v1M1139.5 616v1M1140.5 616v1M1141.5 616v1M1145.5 617v1M1146.5 618v1M1147.5 618v1M1151.5 619v1M1152.5 620v1M1153.5 620v1M1157.5 622v1M1158.5 623v1M1159.5 623v1M1163.5 626v1M1164.5 626v1M1165.5 627v1M1169.5 629v1M1170.5 630v1M1171.5 631v1M1175.5 633v1M1176.5 634v1M1177.5 634v1M1181.5 636v1M1182.5 637v1M1183.5 637v1M1187.5 639v1M1188.5 640v1M1189.5 640v1M1193.5 642v1M1194.5 643v1M1195.5 643v1M1199.5 645v1M1200.5 646v1M1201.5 646v1M1205.5 648v1M1206.5 649v1M1207.5 649v1M1211.5 650v1M1212.5 651v1M1213.5 651v1M1217.5 652v1M1218.5 652v1M1219.5 652v1M1223.5 653v1M1224.5 653v1M1225.5 653v1M1229.5 653v1M1230.5 653v1M1231.5 653v1M1235.5 653v1M1236.5 653v1M1237.5 653v1M1241.5 652v1M1242.5 652v1M1243.5 652v1M1247.5 651v1M1248.5 651v1M1249.5 651v1M1253.5 651v1M1254.5 651v1M1255.5 650v1M1259.5 649v1M1260.5 649v1M1261.5 649v1M1265.5 648v1M1266.5 648v1M1267.5 648v1M1271.5 647v1M1272.5 647v1M1273.5 646v1M1277.5 645v1M1278.5 645v1M1279.5 645v1M1283.5 644v1M1284.5 644v1M1285.5 644v1M1289.5 642v1M1290.5 642v1M1291.5 642v1M1295.5 640v1M1296.5 640v1M1297.5 640v1" fill="none" stroke="#ff0000" stroke-width="1" shape-rendering="crispEdges"/>
<g shape-rendering="crispEdges">
<line x1="7" y1="718.5" x2="1645" y2="718.5" stroke="#c0c0c0" stroke-width="1" stroke-dasharray="3,3"/>
<line x1="7" y1="769.5" x2="1645" y2="769.5" stroke="#c0c0c0" stroke-width="1" stroke-dasharray="3,3"/>
</g>
<path d="M6.5 718v1M7.5 717v1M8.5 717v1M9.5 717v1M10.5 717v1M11.5 717v1M12.5 717v1M13.5 717v1M14.5 717v1M15.5 717v1M16.5 717v1M17.5 717v1M18.5 717v1M19.5 717v1M20.5 717v1M21.5 717v1M22.5 717v1M23.5 717v1M24.5 717v1M25.5 717v1M26.5 717v1M27.5 716v1M28.5 716v1M29.5 716v1M30.5 716v1M31.5 716v1M32.5 716v1M33.5 716v1M34.5 716v1M35.5 717v1M36.5 717v1M37.5 718v1M38.5 719v1M39.5 720v1M40.5 721v1M41.5 722v1M42.5 723v1M43.5 724v1M44.5 725v1M45.5 726v1M46.5 727v1M47.5 726v1M48.5 726v1M49.5 726v1M50.5 726v1M51.5 726v1M52.5 725v1M53.5 725v1M54.5 725v1M55.5 725v1M56.5 725v1M57.5 725v1M58.5 724v1M59.5 724v1M60.5 724v1M61.5 724v1M62.5 724v1M63.5 724v1M64.5 724v1M65.5 724v1M66.5 724v1M67.5 724v1M68.5 724v1M69.5 724v1M70.5 724v1M71.5 725v1M72.5 726v2M73.5 728v1M74.5 729v1M75.5 730v1M76.5 731v2M77.5 733v1M78.5 734v1M79.5 733v1M80.5 733v1M81.5 732v1M82.5 731v1M83.5 730v1M84.5 730v1M85.5 729v1M86.5 728v1M87.5 727v1M88.5 727v1M89.5 726v1M90.5 725v1M91.5 724v1M92.5 724v1M93.5 723v1M94.5 722v1M95.5 722v1M96.5 722v1M97.5 721v1M98.5 721v1M99.5 721v1M100.5 721v1M101.5 720v1M102.5 720v1M103.5 720v1M104.5 720v1M105.5 720v1M106.5 719v1M107.5 719v1M108.5 719v1M109.5 719v1M110.5 719v1M111.5 719v1M112.5 719v1M113.5 719v1M114.5 720v1M115.5 720v1M116.5 720v1M117.5 720v1M118.5 721v1M119.5 721v1M120.5 721v1M121.5 721v1M122.5 721v1M123.5 721v1M124.5 721v1M125.5 721v1M126.5 722v1M127.5 722v1M128.5 723v1M129.5 723v1M130.5 724v1M131.5 724v1M132.5 725v1M133.5 725v1M134.5 726v1M135.5 725v1M136.5 725v1M137.5 724v1M138.5 724v1M139.5 723v1M140.5 723v1M141.5 722v1M142.5 722v1M143.5 721v1M144.5 721v1M145.5 720v1M146.5 720v1M147.5 719v1M148.5 719v1M149.5 718v1M150.5 718v1M151.5 719v1M152.5 720v1M153.5 721v1M154.5 722v2M155.5 724v1M156.5 725v1M157.5 726v1M158.5 727v1M159.5 726v1M160.5 726v1M161.5 726v1M162.5 726v1M163.5 726v1M164.5 725v1M165.5 725v1M166.5 725v1M167.5 724v1M168.5 723v1M169.5 723v1M170.5 722v1M171.5 721v1M172.5 720v1M173.5 719v1M174.5 719v1M175.5 718v1M176.5 718v1M177.5 717v1M178.5 717v1M179.5 716v1M180.5 716v1M181.5 715v1M182.5 715v1M183.5 714v1M184.5 714v1M185.5 713v1M186.5 713v1M187.5 712v1M188.5 712v1M189.5 711v1M190.5 712v1M191.5 713v2M192.5 715v2M193.5 717v2M194.5 719v2M195.5 721v2M196.5 723v2M197.5 725v2M198.5 727v2M199.5 727v1M200.5 727v1M201.5 726v1M202.5 726v1M203.5 725v1M204.5 725v1M205.5 724v1M206.5 724v1M207.5 725v1M208.5 726v1M209.5 726v1M210.5 727v1M211.5 728v1M212.5 729v1M213.5 729v1M214.5 730v1M215.5 730v1M216.5 729v1M217.5 729v1M218.5 729v1M219.5 728v1M220.5 728v1M221.5 727v1M222.5 727v1M223.5 728v1M224.5 729v1M225.5 730v1M226.5 731v1M227.5 731v1M228.5 732v1M229.5 733v1M230.5 734v1M231.5 734v1M232.5 734v1M233.5 734v1M234.5 734v1M235.5 734v1M236.5 734v1M237.5 734v1M238.5 734v1M239.5 733v1M240.5 732v1M241.5 731v1M242.5 730v1M243.5 729v1M244.5 729v1M245.5 728v1M246.5 727v1M247.5 727v1M248.5 727v1M249.5 727v1M250.5 727v1M251.5 727v1M252.5 727v1M253.5 727v1M254.5 727v1M255.5 727v1M256.5 727v1M257.5 727v1M258.5 727v1M259.5 727v1M260.5 727v1M261.5 727v1M262.5 727v1M263.5 726v1M264.5 725v1M265.5 725v1M266.5 724v1M267.5 723v1M268.5 722v1M269.5 721v1M270.5 721v1M271.5 722v2M272.5 724v1M273.5 725v1M274.5 726v2M275.5 728v1M276.5 729v1M277.5 730v2M278.5 732v1M279.5 732v1M280.5 732v1M281.5 732v1M282.5 732v1M283.5 732v1M284.5 732v1M285.5 732v1M286.5 732v1M287.5 731v1M288.5 731v1M289.5 731v1M290.5 731v1M291.5 731v1M292.5 730v1M293.5 730v1M294.5 730v1M295.5 731v2M296.5 733v2M297.5 735v2M298.5 737v2M299.5 739v2M300.5 741v2M301.5 743v2M302.5 745v1M303.5 745v1M304.5 745v1M305.5 746v1M306.5 746v1M307.5 746v1M308.5 746v1M309.5 746v1M310.5 747v1M311.5 748v1M312.5 749v1M313.5 750v1M314.5 751v2M315.5 753v1M316.5 754v1M317.5 755v1M318.5 756v1M319.5 755v1M320.5 755v1M321.5 755v1M322.5 755v1M323.5 754v1M324.5 754v1M325.5 754v1M326.5 754v1M327.5 754v1M328.5 754v1M329.5 754v1M330.5 754v1M331.5 754v1M332.5 754v1M333.5 754v1M334.5 754v1M335.5 754v1M336.5 754v1M337.5 754v1M338.5 754v1M339.5 754v1M340.5 754v1M341.5 754v1M342.5 754v1M343.5 753v1M344.5 752v1M345.5 751v1M346.5 750v1M347.5 749v1M348.5 749v1M349.5 748v1M350.5 747v1M351.5 747v1M352.5 747v1M353.5 747v1M354.5 747v1M355.5 747v1M356.5 747v1M357.5 747v1M358.5 747v1M359.5 747v1M360.5 747v1M361.5 746v1M362.5 746v1M363.5 746v1M364.5 746v1M365.5 746v1M366.5 746v1M367.5 745v1M368.5 745v1M369.5 745v1M370.5 745v1M371.5 744v1M372.5 744v1M373.5 744v1M374.5 744v1M375.5 745v1M376.5 746v1M377.5 747v2M378.5 749v1M379.5 750v2M380.5 752v1M381.5 753v2M382.5 755v1M383.5 754v1M384.5 753v1M385.5 752v1M386.5 751v1M387.5 750v1M388.5 749v1M389.5 748v1M390.5 748v1M391.5 747v1M392.5 746v1M393.5 745v1M394.5 744v1M395.5 743v1M396.5 742v1M397.5 741v1M398.5 740v1M399.5 740v1M400.5 741v1M401.5 741v1M402.5 742v1M403.5 742v1M404.5 742v1M405.5 743v1M406.5 743v1M407.5 743v1M408.5 743v1M409.5 743v1M410.5 744v1M411.5 744v1M412.5 744v1M413.5 744v1M414.5 744v1M415.5 744v1M416.5 744v1M417.5 745v1M418.5 745v1M419.5 745v1M420.5 745v1M421.5 745v1M422.5 746v1M423.5 746v1M424.5 746v1M425.5 746v1M426.5 746v1M427.5 746v1M428.5 746v1M429.5 746v1M430.5 747v1M431.5 747v1M432.5 748v1M433.5 749v1M434.5 750v2M435.5 752v1M436.5 753v1M437.5 754v1M438.5 755v1M439.5 756v1M440.5 757v1M441.5 757v1M442.5 758v1M443.5 759v1M444.5 760v1M445.5 761v1M446.5 762v1M447.5 761v1M448.5 761v1M449.5 761v1M450.5 761v1M451.5 761v1M452.5 760v1M453.5 760v1M454.5 760v1M455.5 760v1M456.5 760v1M457.5 760v1M458.5 760v1M459.5 760v1M460.5 760v1M461.5 760v1M462.5 760v1M463.5 759v1M464.5 757v2M465.5 756v1M466.5 755v1M467.5 754v1M468.5 752v2M469.5 751v1M470.5 750v1M471.5 750v1M472.5 750v1M473.5 751v1M474.5 751v1M475.5 751v1M476.5 751v1M477.5 751v1M478.5 752v1M479.5 751v1M480.5 751v1M481.5 750v1M482.5 750v1M483.5 749v1M484.5 749v1M485.5 748v1M486.5 748v1M487.5 747v1M488.5 746v1M489.5 745v1M490.5 743v2M491.5 742v1M492.5 741v1M493.5 740v1M494.5 739v1M495.5 739v1M496.5 739v1M497.5 739v1M498.5 739v1M499.5 739v1M500.5 739v1M501.5 739v1M502.5 740v1M503.5 741v1M504.5 742v1M505.5 743v1M506.5 744v2M507.5 746v1M508.5 747v1M509.5 748v2M510.5 750v1M511.5 750v1M512.5 750v1M513.5 751v1M514.5 751v1M515.5 751v1M516.5 751v1M517.5 751v1M518.5 752v1M519.5 751v1M520.5 750v1M521.5 750v1M522.5 749v1M523.5 749v1M524.5 748v1M525.5 748v1M526.5 747v1M527.5 748v2M528.5 750v2M529.5 752v1M530.5 753v2M531.5 755v1M532.5 756v2M533.5 758v2M534.5 759v2M535.5 757v2M536.5 755v2M537.5 753v2M538.5 750v3M539.5 748v2M540.5 746v2M541.5 744v2M542.5 743v1M543.5 743v1M544.5 743v1M545.5 743v1M546.5 744v1M547.5 744v1M548.5 744v1M549.5 745v1M550.5 745v1M551.5 746v2M552.5 748v2M553.5 750v1M554.5 751v2M555.5 753v1M556.5 754v2M557.5 756v2M558.5 758v1M559.5 757v1M560.5 757v1M561.5 757v1M562.5 757v1M563.5 756v1M564.5 756v1M565.5 756v1M566.5 756v1M567.5 754v2M568.5 752v2M569.5 750v2M570.5 749v1M571.5 747v2M572.5 745v2M573.5 743v2M574.5 742v1M575.5 743v1M576.5 744v2M577.5 746v1M578.5 747v1M579.5 748v1M580.5 749v2M581.5 751v1M582.5 752v1M583.5 752v1M584.5 753v1M585.5 753v1M586.5 753v1M587.5 753v1M588.5 754v1M589.5 754v1M590.5 754v1M591.5 754v1M592.5 755v1M593.5 755v1M594.5 755v1M595.5 756v1M596.5 756v1M597.5 756v1M598.5 757v1M599.5 757v1M600.5 757v1M601.5 758v1M602.5 758v1M603.5 758v1M604.5 759v1M605.5 759v1M606.5 760v1M607.5 759v1M608.5 759v1M609.5 758v1M610.5 758v1M611.5 758v1M612.5 757v1M613.5 757v1M614.5 757v1M615.5 755v2M616.5 754v1M617.5 753v1M618.5 751v2M619.5 750v1M620.5 749v1M621.5 747v2M622.5 746v1M623.5 746v1M624.5 746v1M625.5 747v1M626.5 747v1M627.5 747v1M628.5 748v1M629.5 748v1M630.5 749v1M631.5 749v1M632.5 749v1M633.5 749v1M634.5 749v1M635.5 749v1M636.5 749v1M637.5 749v1M638.5 749v1M639.5 749v1M640.5 749v1M641.5 750v1M642.5 750v1M643.5 750v1M644.5 750v1M645.5 750v1M646.5 751v1M647.5 752v1M648.5 753v1M649.5 754v1M650.5 755v2M651.5 757v1M652.5 758v1M653.5 759v1M654.5 760v1M655.5 759v1M656.5 759v1M657.5 758v1M658.5 758v1M659.5 757v1M660.5 757v1M661.5 756v1M662.5 756v1M663.5 757v1M664.5 758v1M665.5 759v1M666.5 760v1M667.5 761v1M668.5 762v1M669.5 763v1M670.5 763v2M671.5 761v2M672.5 759v2M673.5 757v2M674.5 755v2M675.5 753v2M676.5 751v2M677.5 749v2M678.5 748v1M679.5 747v1M680.5 747v1M681.5 747v1M682.5 747v1M683.5 747v1M684.5 747v1M685.5 747v1M686.5 747v1M687.5 747v1M688.5 747v1M689.5 747v1M690.5 747v1M691.5 747v1M692.5 747v1M693.5 747v1M694.5 747v1M695.5 748v1M696.5 748v1M697.5 749v1M698.5 749v1M699.5 750v1M700.5 750v1M701.5 751v1M702.5 752v1M703.5 751v1M704.5 749v2M705.5 748v1M706.5 747v1M707.5 746v1M708.5 744v2M709.5 743v1M710.5 742v1M711.5 741v1M712.5 741v1M713.5 740v1M714.5 740v1M715.5 739v1M716.5 739v1M717.5 738v1M718.5 738v1M719.5 737v1M720.5 737v1M721.5 736v1M722.5 736v1M723.5 735v1M724.5 735v1M725.5 734v1M726.5 734v1M727.5 734v1M728.5 734v1M729.5 733v1M730.5 733v1M731.5 733v1M732.5 733v1M733.5 733v1M734.5 733v1M735.5 732v1M736.5 732v1M737.5 732v1M738.5 732v1M739.5 732v1M740.5 732v1M741.5 732v1M742.5 732v1M743.5 732v1M744.5 732v1M745.5 731v1M746.5 731v1M747.5 731v1M748.5 731v1M749.5 730v1M750.5 730v1M751.5 730v1M752.5 730v1M753.5 730v1M754.5 730v1M755.5 730v1M756.5 730v1M757.5 730v1M758.5 730v1M759.5 731v1M760.5 731v1M761.5 732v1M762.5 733v1M763.5 733v1M764.5 734v1M765.5 734v1M766.5 735v1M767.5 735v1M768.5 735v1M769.5 735v1M770.5 735v1M771.5 734v1M772.5 734v1M773.5 734v1M774.5 734v1M775.5 735v1M776.5 735v1M777.5 736v1M778.5 736v1M779.5 737v1M780.5 737v1M781.5 738v1M782.5 739v1M783.5 739v1M784.5 739v1M785.5 739v1M786.5 740v1M787.5 740v1M788.5 740v1M789.5 740v1M790.5 741v1M791.5 741v1M792.5 741v1M793.5 741v1M794.5 741v1M795.5 741v1M796.5 741v1M797.5 741v1M798.5 742v1M799.5 741v1M800.5 740v1M801.5 739v1M802.5 739v1M803.5 738v1M804.5 737v1M805.5 736v1M806.5 736v1M807.5 736v1M808.5 736v1M809.5 737v1M810.5 737v1M811.5 737v1M812.5 738v1M813.5 738v1M814.5 739v1M815.5 739v1M816.5 739v1M817.5 739v1M818.5 739v1M819.5 739v1M820.5 739v1M821.5 739v1M822.5 739v1M823.5 738v1M824.5 738v1M825.5 737v1M826.5 737v1M827.5 736v1M828.5 736v1M829.5 735v1M830.5 735v1M831.5 735v1M832.5 735v1M833.5 735v1M834.5 735v1M835.5 735v1M836.5 735v1M837.5 735v1M838.5 735v1M839.5 734v1M840.5 734v1M841.5 733v1M842.5 733v1M843.5 732v1M844.5 732v1M845.5 731v1M846.5 731v1M847.5 730v1M848.5 730v1M849.5 729v1M850.5 729v1M851.5 728v1M852.5 728v1M853.5 727v1M854.5 727v1M855.5 726v1M856.5 726v1M857.5 725v1M858.5 725v1M859.5 724v1M860.5 723v1M861.5 723v1M862.5 722v1M863.5 722v1M864.5 722v1M865.5 722v1M866.5 722v1M867.5 722v1M868.5 722v1M869.5 722v1M870.5 722v1M871.5 723v1M872.5 724v1M873.5 725v1M874.5 726v1M875.5 727v1M876.5 728v1M877.5 729v1M878.5 730v1M879.5 730v1M880.5 731v1M881.5 731v1M882.5 731v1M883.5 731v1M884.5 732v1M885.5 732v1M886.5 732v1M887.5 731v1M888.5 730v1M889.5 729v1M890.5 727v2M891.5 726v1M892.5 725v1M893.5 724v1M894.5 724v1M895.5 723v1M896.5 723v1M897.5 722v1M898.5 722v1M899.5 721v1M900.5 721v1M901.5 720v1M902.5 720v1M903.5 719v1M904.5 719v1M905.5 718v1M906.5 718v1M907.5 717v1M908.5 717v1M909.5 716v1M910.5 716v1M911.5 717v2M912.5 719v1M913.5 720v2M914.5 722v1M915.5 723v2M916.5 725v1M917.5 726v2M918.5 728v1M919.5 728v1M920.5 728v1M921.5 728v1M922.5 728v1M923.5 728v1M924.5 728v1M925.5 728v1M926.5 728v1M927.5 728v1M928.5 728v1M929.5 728v1M930.5 728v1M931.5 728v1M932.5 729v1M933.5 729v1M934.5 729v1M935.5 729v1M936.5 729v1M937.5 729v1M938.5 729v1M939.5 729v1M940.5 729v1M941.5 729v1M942.5 729v1M943.5 730v1M944.5 731v2M945.5 733v1M946.5 734v1M947.5 735v1M948.5 736v2M949.5 738v1M950.5 739v1M951.5 739v1M952.5 739v1M953.5 740v1M954.5 740v1M955.5 740v1M956.5 741v1M957.5 741v1M958.5 742v1M959.5 741v1M960.5 741v1M961.5 741v1M962.5 741v1M963.5 741v1M964.5 740v1M965.5 740v1M966.5 740v1M967.5 740v1M968.5 741v1M969.5 741v1M970.5 741v1M971.5 741v1M972.5 742v1M973.5 742v1M974.5 742v1M975.5 742v1M976.5 742v1M977.5 742v1M978.5 742v1M979.5 742v1M980.5 742v1M981.5 742v1M982.5 742v1M983.5 742v1M984.5 742v1M985.5 742v1M986.5 742v1M987.5 742v1M988.5 742v1M989.5 742v1M990.5 742v1M991.5 742v1M992.5 742v1M993.5 743v1M994.5 743v1M995.5 743v1M996.5 743v1M997.5 743v1M998.5 744v1M999.5 743v1M1000.5 743v1M1001.5 742v1M1002.5 742v1M1003.5 741v1M1004.5 741v1M1005.5 740v1M1006.5 740v1M1007.5 741v2M1008.5 743v1M1009.5 744v2M1010.5 746v1M1011.5 747v2M1012.5 749v1M1013.5 750v2M1014.5 752v1M1015.5 751v1M1016.5 750v1M1017.5 749v1M1018.5 748v1M1019.5 747v1M1020.5 746v1M1021.5 745v1M1022.5 744v1M1023.5 744v1M1024.5 745v1M1025.5 745v1M1026.5 745v1M1027.5 746v1M1028.5 746v1M1029.5 746v1M1030.5 747v1M1031.5 746v1M1032.5 746v1M1033.5 746v1M1034.5 745v1M1035.5 745v1M1036.5 745v1M1037.5 744v1M1038.5 744v1M1039.5 742v2M1040.5 740v2M1041.5 738v2M1042.5 737v1M1043.5 735v2M1044.5 733v2M1045.5 732v1M1046.5 731v1M1047.5 731v1M1048.5 731v1M1049.5 731v1M1050.5 731v1M1051.5 731v1M1052.5 731v1M1053.5 731v1M1054.5 732v1M1055.5 730v2M1056.5 728v2M1057.5 726v2M1058.5 725v1M1059.5 723v2M1060.5 721v2M1061.5 719v2M1062.5 718v1M1063.5 719v1M1064.5 720v1M1065.5 721v2M1066.5 723v1M1067.5 724v2M1068.5 726v1M1069.5 727v2M1070.5 729v1M1071.5 729v1M1072.5 729v1M1073.5 728v1M1074.5 728v1M1075.5 728v1M1076.5 728v1M1077.5 728v1M1078.5 728v1M1079.5 727v1M1080.5 727v1M1081.5 726v1M1082.5 726v1M1083.5 725v1M1084.5 725v1M1085.5 724v1M1086.5 724v1M1087.5 725v1M1088.5 726v1M1089.5 727v1M1090.5 728v1M1091.5 729v1M1092.5 730v1M1093.5 731v1M1094.5 732v1M1095.5 733v1M1096.5 734v2M1097.5 736v1M1098.5 737v1M1099.5 738v1M1100.5 739v2M1101.5 741v1M1102.5 742v1M1103.5 742v1M1104.5 742v1M1105.5 742v1M1106.5 742v1M1107.5 742v1M1108.5 742v1M1109.5 742v1M1110.5 742v1M1111.5 742v1M1112.5 743v1M1113.5 743v1M1114.5 744v1M1115.5 744v1M1116.5 744v1M1117.5 745v1M1118.5 745v1M1119.5 745v1M1120.5 745v1M1121.5 745v1M1122.5 745v1M1123.5 745v1M1124.5 745v1M1125.5 745v1M1126.5 745v1M1127.5 745v1M1128.5 746v1M1129.5 746v1M1130.5 747v1M1131.5 747v1M1132.5 748v1M1133.5 748v1M1134.5 749v1M1135.5 749v1M1136.5 750v1M1137.5 750v1M1138.5 751v1M1139.5 751v1M1140.5 752v1M1141.5 752v1M1142.5 753v1M1143.5 754v2M1144.5 756v2M1145.5 758v2M1146.5 760v1M1147.5 761v2M1148.5 763v2M1149.5 765v2M1150.5 767v1M1151.5 766v1M1152.5 766v1M1153.5 766v1M1154.5 765v1M1155.5 765v1M1156.5 765v1M1157.5 764v1M1158.5 764v1M1159.5 763v1M1160.5 762v1M1161.5 761v1M1162.5 761v1M1163.5 760v1M1164.5 759v1M1165.5 758v1M1166.5 757v1M1167.5 757v1M1168.5 757v1M1169.5 758v1M1170.5 758v1M1171.5 758v1M1172.5 758v1M1173.5 758v1M1174.5 759v1M1175.5 759v1M1176.5 759v1M1177.5 760v1M1178.5 760v1M1179.5 760v1M1180.5 761v1M1181.5 761v1M1182.5 762v1M1183.5 761v1M1184.5 760v1M1185.5 760v1M1186.5 759v1M1187.5 758v1M1188.5 758v1M1189.5 757v1M1190.5 757v1M1191.5 756v1M1192.5 756v1M1193.5 756v1M1194.5 755v1M1195.5 755v1M1196.5 755v1M1197.5 754v1M1198.5 754v1M1199.5 754v1M1200.5 754v1M1201.5 754v1M1202.5 754v1M1203.5 754v1M1204.5 754v1M1205.5 754v1M1206.5 754v1M1207.5 753v1M1208.5 753v1M1209.5 752v1M1210.5 752v1M1211.5 751v1M1212.5 751v1M1213.5 750v1M1214.5 750v1M1215.5 750v1M1216.5 751v1M1217.5 751v1M1218.5 751v1M1219.5 751v1M1220.5 752v1M1221.5 752v1M1222.5 752v1M1223.5 750v2M1224.5 749v1M1225.5 747v2M1226.5 746v1M1227.5 744v2M1228.5 743v1M1229.5 741v2M1230.5 740v1M1231.5 741v1M1232.5 741v1M1233.5 742v1M1234.5 742v1M1235.5 743v1M1236.5 743v1M1237.5 744v1M1238.5 744v1M1239.5 744v1M1240.5 744v1M1241.5 745v1M1242.5 745v1M1243.5 745v1M1244.5 745v1M1245.5 745v1M1246.5 746v1M1247.5 745v1M1248.5 744v1M1249.5 743v1M1250.5 742v1M1251.5 741v1M1252.5 741v1M1253.5 740v1M1254.5 739v1M1255.5 739v1M1256.5 739v1M1257.5 739v1M1258.5 739v1M1259.5 739v1M1260.5 739v1M1261.5 739v1M1262.5 739v1M1263.5 739v1M1264.5 739v1M1265.5 739v1M1266.5 739v1M1267.5 739v1M1268.5 739v1M1269.5 739v1M1270.5 739v1M1271.5 739v1M1272.5 739v1M1273.5 740v1M1274.5 740v1M1275.5 740v1M1276.5 741v1M1277.5 741v1M1278.5 742v1M1279.5 741v1M1280.5 741v1M1281.5 741v1M1282.5 741v1M1283.5 741v1M1284.5 741v1M1285.5 741v1M1286.5 741v1M1287.5 740v1M1288.5 739v1M1289.5 738v1M1290.5 737v1M1291.5 736v1M1292.5 735v1M1293.5 734v1M1294.5 734v1M1295.5 734v1M1296.5 734v1M1297.5 734v1M1298.5 734v1M1299.5 734v1M1300.5 734v1M1301.5 734v1M1302.5 734v1" fill="none" stroke="#1e90ff" stroke-width="1" shape-rendering="crispEdges"/>
<polygon points="9,37 16,37 12.5,41" fill="#000"/>
<text x="21" y="42" font-size="10.2" fill="#000" textLength="68" lengthAdjust="spacingAndGlyphs">USDCHF-,Daily</text>
<text x="95.3" y="42" font-size="10.2" fill="#000" textLength="140.7" lengthAdjust="spacingAndGlyphs">1.00224 1.00259 1.00190 1.00219</text>
<text x="10" y="585.3" font-size="10.2" fill="#000" textLength="151" lengthAdjust="spacingAndGlyphs">MACD(12,26,9) 0.000443 -0.000444</text>
<text x="10" y="691.2" font-size="10.2" fill="#000" textLength="68" lengthAdjust="spacingAndGlyphs">RSI(14) 58.5281</text>
<g shape-rendering="crispEdges">
<rect x="1646" y="39" width="2" height="1" fill="#000"/>
<rect x="1646" y="72" width="2" height="1" fill="#000"/>
<rect x="1646" y="105" width="2" height="1" fill="#000"/>
<rect x="1646" y="138" width="2" height="1" fill="#000"/>
<rect x="1646" y="171" width="2" height="1" fill="#000"/>
<rect x="1646" y="204" width="2" height="1" fill="#000"/>
<rect x="1646" y="237" width="2" height="1" fill="#000"/>
<rect x="1646" y="270" width="2" height="1" fill="#000"/>
<rect x="1646" y="303" width="2" height="1" fill="#000"/>
<rect x="1646" y="336" width="2" height="1" fill="#000"/>
<rect x="1646" y="369" width="2" height="1" fill="#000"/>
<rect x="1646" y="402" width="2" height="1" fill="#000"/>
<rect x="1646" y="435" width="2" height="1" fill="#000"/>
<rect x="1646" y="468" width="2" height="1" fill="#000"/>
<rect x="1646" y="501" width="2" height="1" fill="#000"/>
<rect x="1646" y="534" width="2" height="1" fill="#000"/>
<rect x="1646" y="567" width="2" height="1" fill="#000"/>
<rect x="1646" y="574" width="1" height="1" fill="#000"/>
<rect x="1646" y="634" width="2" height="1" fill="#000"/>
<rect x="1646" y="675" width="1" height="1" fill="#000"/>
<rect x="1646" y="680" width="1" height="1" fill="#000"/>
<rect x="1647" y="181" width="41" height="11" fill="#000"/>
</g>
<text x="1651.5" y="42.6" font-size="10.2" fill="#000" textLength="32.8" lengthAdjust="spacingAndGlyphs">1.01425</text>
<text x="1651.5" y="75.6" font-size="10.2" fill="#000" textLength="32.8" lengthAdjust="spacingAndGlyphs">1.01155</text>
<text x="1651.5" y="108.6" font-size="10.2" fill="#000" textLength="32.8" lengthAdjust="spacingAndGlyphs">1.00880</text>
<text x="1651.5" y="141.6" font-size="10.2" fill="#000" textLength="32.8" lengthAdjust="spacingAndGlyphs">1.00610</text>
<text x="1651.5" y="174.6" font-size="10.2" fill="#000" textLength="32.8" lengthAdjust="spacingAndGlyphs">1.00335</text>
<text x="1651.5" y="207.6" font-size="10.2" fill="#000" textLength="32.8" lengthAdjust="spacingAndGlyphs">1.00065</text>
<text x="1651.5" y="240.6" font-size="10.2" fill="#000" textLength="32.8" lengthAdjust="spacingAndGlyphs">0.99790</text>
<text x="1651.5" y="273.6" font-size="10.2" fill="#000" textLength="32.8" lengthAdjust="spacingAndGlyphs">0.99520</text>
<text x="1651.5" y="306.6" font-size="10.2" fill="#000" textLength="32.8" lengthAdjust="spacingAndGlyphs">0.99250</text>
<text x="1651.5" y="339.6" font-size="10.2" fill="#000" textLength="32.8" lengthAdjust="spacingAndGlyphs">0.98975</text>
<text x="1651.5" y="372.6" font-size="10.2" fill="#000" textLength="32.8" lengthAdjust="spacingAndGlyphs">0.98705</text>
<text x="1651.5" y="405.6" font-size="10.2" fill="#000" textLength="32.8" lengthAdjust="spacingAndGlyphs">0.98430</text>
<text x="1651.5" y="438.6" font-size="10.2" fill="#000" textLength="32.8" lengthAdjust="spacingAndGlyphs">0.98160</text>
<text x="1651.5" y="471.6" font-size="10.2" fill="#000" textLength="32.8" lengthAdjust="spacingAndGlyphs">0.97885</text>
<text x="1651.5" y="504.6" font-size="10.2" fill="#000" textLength="32.8" lengthAdjust="spacingAndGlyphs">0.97615</text>
<text x="1651.5" y="537.6" font-size="10.2" fill="#000" textLength="32.8" lengthAdjust="spacingAndGlyphs">0.97340</text>
<text x="1651.5" y="570.6" font-size="10.2" fill="#000" textLength="32.8" lengthAdjust="spacingAndGlyphs">0.97070</text>
<text x="1651.5" y="190.2" font-size="10.2" fill="#fff" textLength="32.8" lengthAdjust="spacingAndGlyphs">1.00219</text>
<text x="1649" y="583" font-size="10.2" fill="#000" textLength="38.8" lengthAdjust="spacingAndGlyphs">0.006125</text>
<text x="1649" y="637.6" font-size="10.2" fill="#000" textLength="18.1" lengthAdjust="spacingAndGlyphs">0.00</text>
<text x="1649" y="673" font-size="10.2" fill="#000" textLength="36.7" lengthAdjust="spacingAndGlyphs">-0.00425</text>
<text x="1649" y="688.9" font-size="10.2" fill="#000" textLength="15.5" lengthAdjust="spacingAndGlyphs">100</text>
<text x="1649" y="722" font-size="10.2" fill="#000" textLength="10.3" lengthAdjust="spacingAndGlyphs">70</text>
<text x="1649" y="772.8" font-size="10.2" fill="#000" textLength="10.3" lengthAdjust="spacingAndGlyphs">30</text>
<text x="1649" y="804.8" font-size="10.2" fill="#000" textLength="5.2" lengthAdjust="spacingAndGlyphs">0</text>
<g shape-rendering="crispEdges">
<rect x="6" y="809" width="1" height="2" fill="#000"/>
<rect x="70" y="809" width="1" height="2" fill="#000"/>
<rect x="134" y="809" width="1" height="2" fill="#000"/>
<rect x="198" y="809" width="1" height="2" fill="#000"/>
<rect x="262" y="809" width="1" height="2" fill="#000"/>
<rect x="326" y="809" width="1" height="2" fill="#000"/>
<rect x="390" y="809" width="1" height="2" fill="#000"/>
<rect x="454" y="809" width="1" height="2" fill="#000"/>
<rect x="518" y="809" width="1" height="2" fill="#000"/>
<rect x="582" y="809" width="1" height="2" fill="#000"/>
<rect x="646" y="809" width="1" height="2" fill="#000"/>
<rect x="710" y="809" width="1" height="2" fill="#000"/>
<rect x="774" y="809" width="1" height="2" fill="#000"/>
<rect x="838" y="809" width="1" height="2" fill="#000"/>
<rect x="902" y="809" width="1" height="2" fill="#000"/>
<rect x="966" y="809" width="1" height="2" fill="#000"/>
<rect x="1030" y="809" width="1" height="2" fill="#000"/>
<rect x="1094" y="809" width="1" height="2" fill="#000"/>
<rect x="1158" y="809" width="1" height="2" fill="#000"/>
<rect x="1222" y="809" width="1" height="2" fill="#000"/>
<rect x="1286" y="809" width="1" height="2" fill="#000"/>
</g>
<text x="5" y="820.7" font-size="10.2" fill="#000" textLength="45.5" lengthAdjust="spacingAndGlyphs">4 Oct 2018</text>
<text x="69" y="820.7" font-size="10.2" fill="#000" textLength="50.7" lengthAdjust="spacingAndGlyphs">14 Oct 2018</text>
<text x="133" y="820.7" font-size="10.2" fill="#000" textLength="50.7" lengthAdjust="spacingAndGlyphs">23 Oct 2018</text>
<text x="197" y="820.7" font-size="10.2" fill="#000" textLength="47.6" lengthAdjust="spacingAndGlyphs">1 Nov 2018</text>
<text x="261" y="820.7" font-size="10.2" fill="#000" textLength="52.0" lengthAdjust="spacingAndGlyphs">11 Nov 2018</text>
<text x="325" y="820.7" font-size="10.2" fill="#000" textLength="52.7" lengthAdjust="spacingAndGlyphs">20 Nov 2018</text>
<text x="389" y="820.7" font-size="10.2" fill="#000" textLength="52.7" lengthAdjust="spacingAndGlyphs">29 Nov 2018</text>
<text x="453" y="820.7" font-size="10.2" fill="#000" textLength="47.6" lengthAdjust="spacingAndGlyphs">9 Dec 2018</text>
<text x="517" y="820.7" font-size="10.2" fill="#000" textLength="52.7" lengthAdjust="spacingAndGlyphs">18 Dec 2018</text>
<text x="581" y="820.7" font-size="10.2" fill="#000" textLength="52.7" lengthAdjust="spacingAndGlyphs">27 Dec 2018</text>
<text x="645" y="820.7" font-size="10.2" fill="#000" textLength="46.0" lengthAdjust="spacingAndGlyphs">6 Jan 2019</text>
<text x="709" y="820.7" font-size="10.2" fill="#000" textLength="51.2" lengthAdjust="spacingAndGlyphs">15 Jan 2019</text>
<text x="773" y="820.7" font-size="10.2" fill="#000" textLength="51.2" lengthAdjust="spacingAndGlyphs">24 Jan 2019</text>
<text x="837" y="820.7" font-size="10.2" fill="#000" textLength="47.0" lengthAdjust="spacingAndGlyphs">3 Feb 2019</text>
<text x="901" y="820.7" font-size="10.2" fill="#000" textLength="52.2" lengthAdjust="spacingAndGlyphs">12 Feb 2019</text>
<text x="965" y="820.7" font-size="10.2" fill="#000" textLength="52.2" lengthAdjust="spacingAndGlyphs">21 Feb 2019</text>
<text x="1029" y="820.7" font-size="10.2" fill="#000" textLength="47.0" lengthAdjust="spacingAndGlyphs">3 Mar 2019</text>
<text x="1093" y="820.7" font-size="10.2" fill="#000" textLength="52.2" lengthAdjust="spacingAndGlyphs">12 Mar 2019</text>
<text x="1157" y="820.7" font-size="10.2" fill="#000" textLength="52.2" lengthAdjust="spacingAndGlyphs">21 Mar 2019</text>
<text x="1221" y="820.7" font-size="10.2" fill="#000" textLength="52.2" lengthAdjust="spacingAndGlyphs">31 Mar 2019</text>
<text x="1285" y="820.7" font-size="10.2" fill="#000" textLength="45.0" lengthAdjust="spacingAndGlyphs">9 Apr 2019</text>
<g shape-rendering="crispEdges">
<rect x="0" y="830" width="1689" height="1" fill="#e3e3e3"/>
<rect x="0" y="831" width="1689" height="1" fill="#000"/>
<rect x="0" y="832" width="1689" height="19" fill="#f0f0f0"/>
<rect x="0" y="851" width="1689" height="3" fill="#fafafa"/>
<rect x="1" y="832" width="1" height="18" fill="#a0a0a0"/>
<rect x="2" y="832" width="1" height="18" fill="#696969"/>
<rect x="223" y="831" width="109" height="19" fill="#fff"/>
<rect x="223" y="831" width="1" height="19" fill="#000"/>
<rect x="331" y="831" width="1" height="19" fill="#000"/>
<rect x="223" y="849" width="109" height="1" fill="#000"/>
<rect x="115" y="834" width="1" height="13" fill="#808080"/>
<rect x="427" y="834" width="1" height="13" fill="#808080"/>
<rect x="527" y="834" width="1" height="13" fill="#808080"/>
</g>
<g opacity="0.999">
<text x="18" y="846.4" font-size="13.2" fill="#707070" textLength="85.0" lengthAdjust="spacingAndGlyphs">EURUSD-,Daily</text>
<text x="125" y="846.4" font-size="13.2" fill="#707070" textLength="85.0" lengthAdjust="spacingAndGlyphs">AUDUSD-,Daily</text>
<text x="235" y="846.4" font-size="13.2" fill="#000" textLength="84.3" lengthAdjust="spacingAndGlyphs">USDCHF-,Daily</text>
<text x="342" y="846.4" font-size="13.2" fill="#707070" textLength="73.6" lengthAdjust="spacingAndGlyphs">USDCAD-,H1</text>
<text x="439" y="846.4" font-size="13.2" fill="#707070" textLength="74.3" lengthAdjust="spacingAndGlyphs">USDCNH-,H1</text>
</g>
<polygon points="1661,840 1665,836.5 1665,843.5" fill="#a0a0a0"/>
<polygon points="1684,840 1680,836.5 1680,843.5" fill="#a0a0a0"/>
</svg></body></html>
